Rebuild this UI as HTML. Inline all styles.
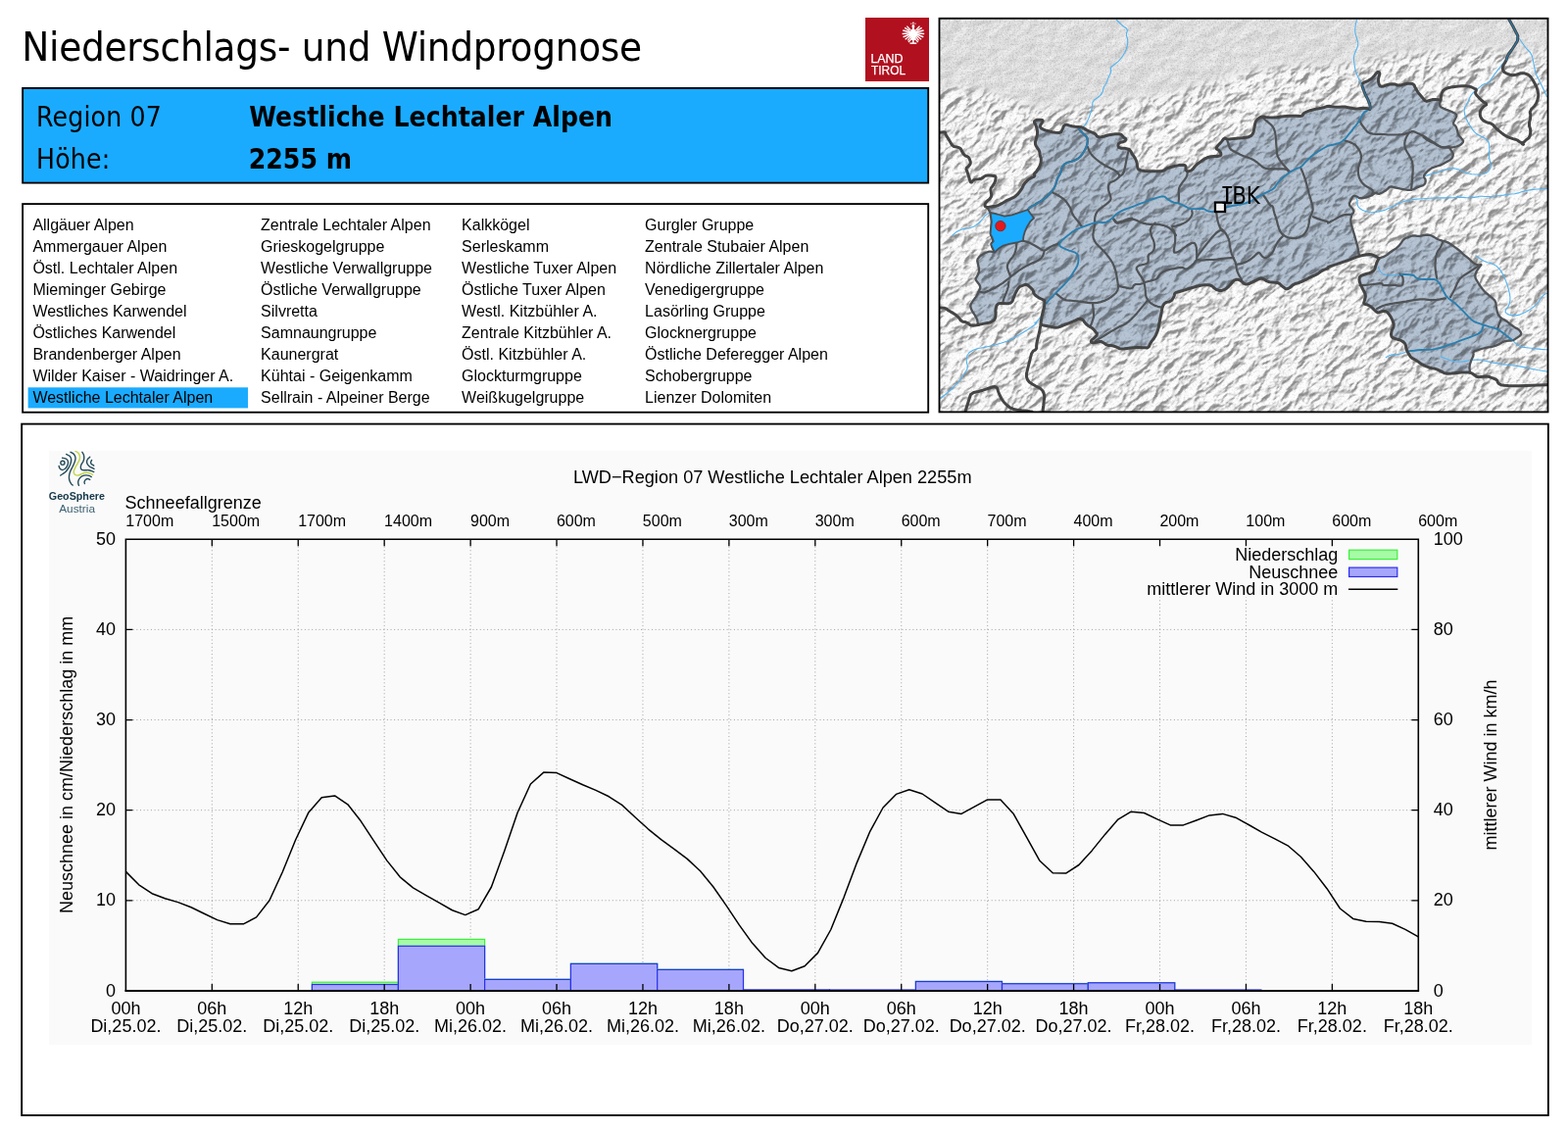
<!DOCTYPE html>
<html lang="de">
<head>
<meta charset="utf-8">
<title>Niederschlags- und Windprognose</title>
<style>
html,body{margin:0;padding:0;background:#fff;}
body{width:1600px;height:1153px;position:relative;overflow:hidden;font-family:"Liberation Sans",sans-serif;color:#000;}
.abs{position:absolute;}
#title{left:22.3px;top:22.7px;font-family:"DejaVu Sans Condensed","DejaVu Sans","Liberation Sans",sans-serif;font-size:41.7px;line-height:50px;letter-spacing:-0.3px;white-space:nowrap;}
#logo{left:883px;top:18px;width:65px;height:65px;background:#b1101f;}
#logo svg{display:block;}
#info{left:23px;top:89.8px;width:924px;height:96.8px;font-family:"DejaVu Sans Condensed","DejaVu Sans","Liberation Sans",sans-serif;font-size:28px;white-space:nowrap;}
#info div{position:absolute;line-height:34px;}
#info b{font-weight:bold;}
#list{left:23px;top:208px;width:924px;height:212.6px;font-size:16px;}
#list ul{list-style:none;margin:0;padding:0;position:absolute;top:10.7px;}
#list li{height:22px;line-height:22px;white-space:nowrap;padding-left:5px;}
svg text{font-family:"Liberation Sans",sans-serif;}
</style>
</head>
<body>
<svg class="abs" width="1600" height="1153" viewBox="0 0 1600 1153" style="left:0;top:0">
<rect x="23.1" y="89.9" width="924.1" height="96.7" fill="#1aabff" stroke="#000" stroke-width="1.85"/>
<rect x="23.1" y="208.1" width="924.1" height="212.6" fill="#fff" stroke="#000" stroke-width="1.85"/>
<rect x="22.15" y="432.6" width="1557.7" height="705.4" fill="#fff" stroke="#000" stroke-width="1.85"/>
<rect x="28.6" y="395.3" width="224.4" height="21.1" fill="#1aabff"/>
</svg>
<div class="abs" id="title">Niederschlags- und Windprognose</div>
<div class="abs" id="logo">
<svg width="65" height="65" viewBox="0 0 65 65">
<g stroke="#fff" stroke-linecap="butt" fill="none">
<path d="M46.62 16.52L38.52 19.8" stroke-width="1.5"/>
<path d="M51.18 16.52L59.28 19.8" stroke-width="1.5"/>
<path d="M46.42 15.77L37.63 16.39" stroke-width="1.5"/>
<path d="M51.38 15.77L60.17 16.39" stroke-width="1.5"/>
<path d="M46.55 15.01L38.23 12.94" stroke-width="1.5"/>
<path d="M51.25 15.01L59.57 12.94" stroke-width="1.5"/>
<path d="M46.98 14.44L40.16 10.35" stroke-width="1.4"/>
<path d="M50.82 14.44L57.64 10.35" stroke-width="1.4"/>
<path d="M47.46 14.06L42.35 8.58" stroke-width="1.3"/>
<path d="M50.34 14.06L55.45 8.58" stroke-width="1.3"/>
<path d="M47.09 17.07L40.66 22.27" stroke-width="1.4"/>
<path d="M50.71 17.07L57.14 22.27" stroke-width="1.4"/>
<path d="M47.67 17.29L43.32 23.29" stroke-width="1.2"/>
<path d="M50.13 17.29L54.48 23.29" stroke-width="1.2"/>
</g>
<g fill="#fff">
<path d="M48.9 6.2l1.5 2.4-.5 3 2.6 2.6.6 3.2-1.6 3 .3 2.6h-5.800l.3-2.6-1.6-3 .6-3.200 2.6-2.600-.5-3z"/>
<rect x="48.2" y="4.6" width="1.4" height="1.6"/><rect x="46.3" y="5.6" width="1.1" height="1.1"/><rect x="50.4" y="5.6" width="1.1" height="1.1"/>
<rect x="45.5" y="25.4" width="6.8" height="1.5"/><rect x="48.1" y="22" width="1.6" height="4"/>
<path d="M46.7 21.2l-3.2 3.400.9.9 3.2-3.400zM51.1 21.2l3.200 3.400-.9.9-3.200-3.400z"/>
</g>
<g fill="#b1101f">
<rect x="46.5" y="9.6" width="1.1" height="1.1"/><rect x="50.2" y="9.6" width="1.1" height="1.1"/><rect x="45.3" y="12.6" width="1" height="1"/><rect x="51.5" y="12.6" width="1" height="1"/><rect x="47" y="23.6" width="1" height="1"/><rect x="49.8" y="23.6" width="1" height="1"/>
</g>
<text x="5.4" y="46" font-size="12.2px" fill="#fff" stroke="#fff" stroke-width="0.25" textLength="33.2" lengthAdjust="spacingAndGlyphs">LAND</text>
<text x="6" y="57.9" font-size="12.2px" fill="#fff" stroke="#fff" stroke-width="0.25" textLength="35" lengthAdjust="spacingAndGlyphs">TIROL</text>
</svg>
</div>
<div class="abs" id="info">
<div style="left:14.1px;top:13.6px;letter-spacing:0.18px">Region 07</div>
<div style="left:14.1px;top:55.8px;letter-spacing:0.18px">Höhe:</div>
<div style="left:231.3px;top:13.6px;letter-spacing:0.03px"><b>Westliche Lechtaler Alpen</b></div>
<div style="left:230.8px;top:55.8px"><b>2255 m</b></div>
</div>
<div class="abs" id="list">
<ul style="left:5.4px;width:224.300px">
<li>Allgäuer Alpen</li>
<li>Ammergauer Alpen</li>
<li>Östl. Lechtaler Alpen</li>
<li>Mieminger Gebirge</li>
<li>Westliches Karwendel</li>
<li>Östliches Karwendel</li>
<li>Brandenberger Alpen</li>
<li>Wilder Kaiser - Waidringer A.</li>
<li class="sel">Westliche Lechtaler Alpen</li>
</ul>
<ul style="left:238.1px">
<li>Zentrale Lechtaler Alpen</li>
<li>Grieskogelgruppe</li>
<li>Westliche Verwallgruppe</li>
<li>Östliche Verwallgruppe</li>
<li>Silvretta</li>
<li>Samnaungruppe</li>
<li>Kaunergrat</li>
<li>Kühtai - Geigenkamm</li>
<li>Sellrain - Alpeiner Berge</li>
</ul>
<ul style="left:443.1px">
<li>Kalkkögel</li>
<li>Serleskamm</li>
<li>Westliche Tuxer Alpen</li>
<li>Östliche Tuxer Alpen</li>
<li>Westl. Kitzbühler A.</li>
<li>Zentrale Kitzbühler A.</li>
<li>Östl. Kitzbühler A.</li>
<li>Glockturmgruppe</li>
<li>Weißkugelgruppe</li>
</ul>
<ul style="left:630.1px">
<li>Gurgler Gruppe</li>
<li>Zentrale Stubaier Alpen</li>
<li>Nördliche Zillertaler Alpen</li>
<li>Venedigergruppe</li>
<li>Lasörling Gruppe</li>
<li>Glocknergruppe</li>
<li>Östliche Deferegger Alpen</li>
<li>Schobergruppe</li>
<li>Lienzer Dolomiten</li>
</ul>
</div>
<svg class="abs" id="map" width="626" height="406" viewBox="956 17 626 406" style="left:956px;top:17px">
<defs>
<clipPath id="mc"><rect x="958.5" y="18.8" width="621" height="401.6"/></clipPath>
<clipPath id="tc"><path d="M1007.5 211.6 1012.5 210.6 1017.5 210 1022.5 207.5 1027.5 204.4 1032.5 202.5 1037.5 199.4 1042.5 193.1 1045 187.5 1048.8 183.8 1052.5 181.2 1056 180 1055 177.5 1058.8 173.8 1061.9 167.5 1062.5 162.5 1061.2 158.8 1060.6 153.8 1058.1 150.6 1056 146.2 1057.5 141.2 1058.8 136.2 1058.1 131.2 1056.9 127.5 1055 124.4 1056.9 122.5 1061.2 122.1 1064.4 122.5 1063.1 125.6 1061.2 128.1 1061.9 130.6 1065.6 132.8 1070 133.8 1075 135 1082.5 135.6 1084.4 131.2 1085.6 128.1 1088.1 126.9 1092.5 128.5 1098.8 129.4 1105 130 1108.1 132.5 1112.5 134.4 1117.5 136.2 1120 140 1125 139.8 1130 138.1 1136.2 136.9 1143.8 136.6 1146.2 140 1149.4 141.9 1147.5 144.4 1141.9 145.6 1140.6 148.8 1142.5 151.2 1149.4 151.2 1153.8 153.8 1155 156.9 1157.5 160 1160 165 1160.6 171.2 1162.5 173.8 1170 174.8 1180 174.8 1187.5 174.4 1190 171.9 1196.2 170 1205 168.1 1210 168.5 1210 173.8 1211.9 175 1216.2 173.8 1220 168.8 1225 165 1230 161.2 1237.5 159.4 1245 159.4 1246.2 156.9 1243.8 153.1 1240.6 151.9 1242.5 148.8 1246.2 145 1249.4 140.6 1251.9 141.9 1255 141.9 1261.2 141.2 1270 140.6 1275.6 139.4 1278.8 136.2 1280 130 1281.2 123.8 1284.4 120.6 1287.5 118.8 1292.5 119.8 1300 120 1310 118.8 1320 118.1 1328.8 118.8 1330 115.6 1335 113.1 1342.5 111.2 1350 110 1355 108.1 1360 109 1365 109.4 1371.2 108.8 1377.5 110 1383.8 111.2 1390 110.2 1396.2 110.6 1398.1 111.9 1398.1 107.5 1396.2 102.5 1393.8 97.5 1391.2 91.9 1389.4 85.6 1392.5 83.8 1397.5 81.9 1401.9 78.1 1404.4 74.4 1406.9 73.1 1408.1 75 1406.9 78.8 1406.2 82.5 1407.5 87.5 1410.6 88.5 1416.2 86.2 1422.5 85.6 1427.5 87.5 1432.5 86 1437.5 85 1442.5 85.6 1444.4 90 1447.5 95 1451.2 99.4 1455 103.8 1458.8 102.5 1462.5 101.2 1470 101.9 1468.8 107.5 1471.2 110 1477.5 112.5 1483.8 115 1486.9 117.5 1485 121.2 1482.5 126.2 1485.6 128.8 1486.9 132.5 1488.1 137.5 1491.2 141.2 1493.8 144.4 1490 148.1 1485 150 1478.8 150.6 1481.2 153.8 1483.1 157.5 1481.2 162.5 1476.2 165 1471.2 168.1 1465 170 1460 171.9 1455 176.2 1452.5 180 1455 183.8 1453.8 188.8 1447.5 190.6 1441.2 193.8 1435 193.8 1428.8 192.5 1422.5 191.2 1418.8 190 1415 193.8 1410 196.9 1406.2 198.1 1403.8 196.2 1400 199.4 1395 201.2 1387.5 202.5 1383.8 200 1380.6 200 1378.8 203.8 1376.2 208.8 1380 212.5 1381.9 216.2 1379.4 218.8 1378.1 225 1379.4 231.2 1381.9 238.8 1383.8 246.2 1385.6 252.5 1386.2 258.8 1387.8 261 1406.9 263.8 1403.8 261.2 1398.8 259.4 1392.5 260 1385 261.9 1377.5 265 1370 267.5 1362.5 270 1355 272.5 1355 273.8 1348.8 276.2 1343.8 280 1337.5 282.5 1332.5 285.6 1326.2 288.1 1320 290 1316.2 293.8 1312.5 295 1308.8 292.5 1305 288.8 1300 288.1 1293.8 287.5 1290 285 1286.2 283.8 1280 286.9 1273.8 290 1270 290 1266.2 286.2 1262.5 285 1258.8 286.2 1255 291.2 1250 295.6 1245 296.9 1240 295 1236.2 291.2 1231.2 290.6 1225 291.2 1217.5 293.1 1210 295.6 1203.8 297.5 1198.8 298.8 1198.1 302.5 1195 307.5 1188.8 308.8 1186.2 312.5 1185 320 1183.1 328.8 1181.9 336.2 1178.8 343.8 1173.8 350 1171.9 355 1167.5 354.8 1161.2 354.4 1155 354.8 1148.8 355.6 1143.8 356.2 1140 354.4 1135 352.5 1130 352.5 1126.2 350 1123.1 348.1 1118.8 349.4 1113.8 350 1113.1 347.5 1116.2 345 1120 341.2 1117.5 338.1 1115 335 1111.2 333.1 1107.5 330 1105 326.2 1101.2 325 1096.2 327.5 1090 330 1083.8 332.5 1078.8 334.4 1073.8 333.8 1067.5 332.5 1061.9 331.2 1062.5 326.2 1063.8 320 1065.6 312.5 1066.2 306.9 1063.8 305.6 1058.8 303.1 1055 300 1054.4 296.2 1051.2 293.1 1047.5 290 1043.8 291.2 1040 292.5 1036.9 297.5 1034.4 303.8 1032.5 308.8 1027.5 310 1022.5 309.4 1017.5 310 1015.6 316.2 1016.2 321.2 1015 326.2 1011.2 328.8 1005 330 998.1 331.5 998.1 331.5 996.9 325 993.8 320 991.2 316.2 990 311.2 992.5 307.5 996.2 302.5 998.8 297.5 1000.6 292.5 998.1 288.8 995 285 997.5 281.2 999.4 276.2 998.1 270 996.9 265 1000 261.2 1005 258.1 1010 256.2 1015 257.5 1012.5 252.5 1011.2 248.8 1013.8 246.2 1012.5 242.5 1010.6 238.8 1011.2 232.5 1011.9 226.2 1011.2 221.2 1010.6 216.9 1007.5 211.9Z M1406.9 263.8 1413.8 261.2 1420 256.2 1426.2 252.5 1430 247.5 1432.5 243.8 1437.5 241.9 1442.5 240 1447.5 241.2 1452.5 240 1457.5 239.4 1462.5 241.2 1466.2 243.8 1471.2 245.6 1475 246.2 1480 248.8 1485 252.5 1490 256.2 1493.8 260 1498.8 263.8 1502.5 267.5 1506.2 270 1511.2 270.6 1508.8 273.8 1506.2 277.5 1505 282.5 1506.9 286.2 1510 291.2 1513.8 296.2 1517.5 300 1522.5 303.8 1526.2 307.5 1526.9 313.8 1528.1 320 1531.2 324.4 1536.2 326.9 1540 330 1545 333.8 1550 336.2 1552.5 340 1551.2 342.5 1547.5 345 1543.8 347.5 1538.8 347.5 1533.8 348.8 1528.8 351.9 1522.5 353.8 1515 355 1508.8 356.9 1503.1 358.8 1503.8 362.5 1501.2 367.5 1499.4 373.8 1500 380 1500 380 1495 380 1490 380 1485 380.6 1480 381.2 1475 381.2 1470 378.8 1465 376.2 1460 375.6 1455 373.8 1450 371.2 1445 367.5 1440 365 1437.5 361.2 1435 356.2 1434.4 351.2 1431.2 348.1 1426.2 346.2 1421.2 345 1419.4 342.5 1420 337.5 1422.5 332.5 1421.2 327.5 1418.8 322.5 1415 317.5 1410 317.5 1406.2 319.4 1403.8 317.5 1400 313.8 1396.2 311.2 1391.2 310 1392.5 306.2 1393.8 301.2 1391.2 296.2 1388.8 291.2 1386.9 286.2 1387.5 281.9 1392.5 280 1398.8 278.1 1402.5 275.6 1403.8 271.2 1405 267.5 1406.9 263.8Z"/></clipPath>
<filter id="hs" x="0" y="0" width="100%" height="100%" color-interpolation-filters="sRGB">
<feTurbulence type="turbulence" baseFrequency="0.045 0.075" numOctaves="5" seed="11" result="n"/>
<feDiffuseLighting in="n" surfaceScale="-6.5" diffuseConstant="1.2" lighting-color="#ffffff" result="l"><feDistantLight azimuth="263" elevation="50"/></feDiffuseLighting>
<feComponentTransfer in="l" result="l2"><feFuncR type="table" tableValues="0.56 0.67 0.77 0.86 0.94 1"/><feFuncG type="table" tableValues="0.56 0.67 0.77 0.86 0.94 1"/><feFuncB type="table" tableValues="0.56 0.67 0.77 0.86 0.94 1"/></feComponentTransfer>
<feTurbulence type="fractalNoise" baseFrequency="0.7" numOctaves="2" seed="3" result="g"/>
<feColorMatrix in="g" type="matrix" values="0.35 0 0 0 0.82  0.35 0 0 0 0.82  0.35 0 0 0 0.82  0 0 0 0 1" result="g2"/>
<feBlend in="l2" in2="g2" mode="multiply"/>
</filter>
<filter id="hf" x="0" y="0" width="100%" height="100%" color-interpolation-filters="sRGB">
<feTurbulence type="fractalNoise" baseFrequency="0.06 0.08" numOctaves="4" seed="5" result="n"/>
<feDiffuseLighting in="n" surfaceScale="0.5" diffuseConstant="1.155" lighting-color="#ffffff" result="l"><feDistantLight azimuth="225" elevation="50"/></feDiffuseLighting>
<feTurbulence type="fractalNoise" baseFrequency="0.6" numOctaves="2" seed="8" result="g"/>
<feColorMatrix in="g" type="matrix" values="0.35 0 0 0 0.81  0.35 0 0 0 0.81  0.35 0 0 0 0.81  0 0 0 0 1" result="g2"/>
<feBlend in="l" in2="g2" mode="multiply"/>
</filter>
<filter id="bl" x="-10%" y="-10%" width="120%" height="120%"><feGaussianBlur stdDeviation="5"/></filter>
<mask id="lm" maskUnits="userSpaceOnUse" x="950" y="10" width="640" height="420"><rect x="950" y="10" width="640" height="420" fill="#000"/><path filter="url(#bl)" fill="#fff" d="M940 0H1600V44L1545 54 1505 48 1465 52 1425 54 1385 64 1345 66 1305 68 1265 74 1215 90 1175 98 1135 104 1095 108 1055 110 1015 94 940 84Z"/></mask>
</defs>
<g clip-path="url(#mc)">
<rect x="856" y="-180" width="826" height="800" fill="#fff" filter="url(#hs)" transform="rotate(-38 1268 220)"/>
<rect x="956" y="17" width="626" height="406" fill="#fff" filter="url(#hf)" mask="url(#lm)"/>
<path d="M1007.5 211.6 1012.5 210.6 1017.5 210 1022.5 207.5 1027.5 204.4 1032.5 202.5 1037.5 199.4 1042.5 193.1 1045 187.5 1048.8 183.8 1052.5 181.2 1056 180 1055 177.5 1058.8 173.8 1061.9 167.5 1062.5 162.5 1061.2 158.8 1060.6 153.8 1058.1 150.6 1056 146.2 1057.5 141.2 1058.8 136.2 1058.1 131.2 1056.9 127.5 1055 124.4 1056.9 122.5 1061.2 122.1 1064.4 122.5 1063.1 125.6 1061.2 128.1 1061.9 130.6 1065.6 132.8 1070 133.8 1075 135 1082.5 135.6 1084.4 131.2 1085.6 128.1 1088.1 126.9 1092.5 128.5 1098.8 129.4 1105 130 1108.1 132.5 1112.5 134.4 1117.5 136.2 1120 140 1125 139.8 1130 138.1 1136.2 136.9 1143.8 136.6 1146.2 140 1149.4 141.9 1147.5 144.4 1141.9 145.6 1140.6 148.8 1142.5 151.2 1149.4 151.2 1153.8 153.8 1155 156.9 1157.5 160 1160 165 1160.6 171.2 1162.5 173.8 1170 174.8 1180 174.8 1187.5 174.4 1190 171.9 1196.2 170 1205 168.1 1210 168.5 1210 173.8 1211.9 175 1216.2 173.8 1220 168.8 1225 165 1230 161.2 1237.5 159.4 1245 159.4 1246.2 156.9 1243.8 153.1 1240.6 151.9 1242.5 148.8 1246.2 145 1249.4 140.6 1251.9 141.9 1255 141.9 1261.2 141.2 1270 140.6 1275.6 139.4 1278.8 136.2 1280 130 1281.2 123.8 1284.4 120.6 1287.5 118.8 1292.5 119.8 1300 120 1310 118.8 1320 118.1 1328.8 118.8 1330 115.6 1335 113.1 1342.5 111.2 1350 110 1355 108.1 1360 109 1365 109.4 1371.2 108.8 1377.5 110 1383.8 111.2 1390 110.2 1396.2 110.6 1398.1 111.9 1398.1 107.5 1396.2 102.5 1393.8 97.5 1391.2 91.9 1389.4 85.6 1392.5 83.8 1397.5 81.9 1401.9 78.1 1404.4 74.4 1406.9 73.1 1408.1 75 1406.9 78.8 1406.2 82.5 1407.5 87.5 1410.6 88.5 1416.2 86.2 1422.5 85.6 1427.5 87.5 1432.5 86 1437.5 85 1442.5 85.6 1444.4 90 1447.5 95 1451.2 99.4 1455 103.8 1458.8 102.5 1462.5 101.2 1470 101.9 1468.8 107.5 1471.2 110 1477.5 112.5 1483.8 115 1486.9 117.5 1485 121.2 1482.5 126.2 1485.6 128.8 1486.9 132.5 1488.1 137.5 1491.2 141.2 1493.8 144.4 1490 148.1 1485 150 1478.8 150.6 1481.2 153.8 1483.1 157.5 1481.2 162.5 1476.2 165 1471.2 168.1 1465 170 1460 171.9 1455 176.2 1452.5 180 1455 183.8 1453.8 188.8 1447.5 190.6 1441.2 193.8 1435 193.8 1428.8 192.5 1422.5 191.2 1418.8 190 1415 193.8 1410 196.9 1406.2 198.1 1403.8 196.2 1400 199.4 1395 201.2 1387.5 202.5 1383.8 200 1380.6 200 1378.8 203.8 1376.2 208.8 1380 212.5 1381.9 216.2 1379.4 218.8 1378.1 225 1379.4 231.2 1381.9 238.8 1383.8 246.2 1385.6 252.5 1386.2 258.8 1387.8 261 1406.9 263.8 1403.8 261.2 1398.8 259.4 1392.5 260 1385 261.9 1377.5 265 1370 267.5 1362.5 270 1355 272.5 1355 273.8 1348.8 276.2 1343.8 280 1337.5 282.5 1332.5 285.6 1326.2 288.1 1320 290 1316.2 293.8 1312.5 295 1308.8 292.5 1305 288.8 1300 288.1 1293.8 287.5 1290 285 1286.2 283.8 1280 286.9 1273.8 290 1270 290 1266.2 286.2 1262.5 285 1258.8 286.2 1255 291.2 1250 295.6 1245 296.9 1240 295 1236.2 291.2 1231.2 290.6 1225 291.2 1217.5 293.1 1210 295.6 1203.8 297.5 1198.8 298.8 1198.1 302.5 1195 307.5 1188.8 308.8 1186.2 312.5 1185 320 1183.1 328.8 1181.9 336.2 1178.8 343.8 1173.8 350 1171.9 355 1167.5 354.8 1161.2 354.4 1155 354.8 1148.8 355.6 1143.8 356.2 1140 354.4 1135 352.5 1130 352.5 1126.2 350 1123.1 348.1 1118.8 349.4 1113.8 350 1113.1 347.5 1116.2 345 1120 341.2 1117.5 338.1 1115 335 1111.2 333.1 1107.5 330 1105 326.2 1101.2 325 1096.2 327.5 1090 330 1083.8 332.5 1078.8 334.4 1073.8 333.8 1067.5 332.5 1061.9 331.2 1062.5 326.2 1063.8 320 1065.6 312.5 1066.2 306.9 1063.8 305.6 1058.8 303.1 1055 300 1054.4 296.2 1051.2 293.1 1047.5 290 1043.8 291.2 1040 292.5 1036.9 297.5 1034.4 303.8 1032.5 308.8 1027.5 310 1022.5 309.4 1017.5 310 1015.6 316.2 1016.2 321.2 1015 326.2 1011.2 328.8 1005 330 998.1 331.5 998.1 331.5 996.9 325 993.8 320 991.2 316.2 990 311.2 992.5 307.5 996.2 302.5 998.8 297.5 1000.6 292.5 998.1 288.8 995 285 997.5 281.2 999.4 276.2 998.1 270 996.9 265 1000 261.2 1005 258.1 1010 256.2 1015 257.5 1012.5 252.5 1011.2 248.8 1013.8 246.2 1012.5 242.5 1010.6 238.8 1011.2 232.5 1011.9 226.2 1011.2 221.2 1010.6 216.9 1007.5 211.9Z M1406.9 263.8 1413.8 261.2 1420 256.2 1426.2 252.5 1430 247.5 1432.5 243.8 1437.5 241.9 1442.5 240 1447.5 241.2 1452.5 240 1457.5 239.4 1462.5 241.2 1466.2 243.8 1471.2 245.6 1475 246.2 1480 248.8 1485 252.5 1490 256.2 1493.8 260 1498.8 263.8 1502.5 267.5 1506.2 270 1511.2 270.6 1508.8 273.8 1506.2 277.5 1505 282.5 1506.9 286.2 1510 291.2 1513.8 296.2 1517.5 300 1522.5 303.8 1526.2 307.5 1526.9 313.8 1528.1 320 1531.2 324.4 1536.2 326.9 1540 330 1545 333.8 1550 336.2 1552.5 340 1551.2 342.5 1547.5 345 1543.8 347.5 1538.8 347.5 1533.8 348.8 1528.8 351.9 1522.5 353.8 1515 355 1508.8 356.9 1503.1 358.8 1503.8 362.5 1501.2 367.5 1499.4 373.8 1500 380 1500 380 1495 380 1490 380 1485 380.6 1480 381.2 1475 381.2 1470 378.8 1465 376.2 1460 375.6 1455 373.8 1450 371.2 1445 367.5 1440 365 1437.5 361.2 1435 356.2 1434.4 351.2 1431.2 348.1 1426.2 346.2 1421.2 345 1419.4 342.5 1420 337.5 1422.5 332.5 1421.2 327.5 1418.8 322.5 1415 317.5 1410 317.5 1406.2 319.4 1403.8 317.5 1400 313.8 1396.2 311.2 1391.2 310 1392.5 306.2 1393.8 301.2 1391.2 296.2 1388.8 291.2 1386.9 286.2 1387.5 281.9 1392.5 280 1398.8 278.1 1402.5 275.6 1403.8 271.2 1405 267.5 1406.9 263.8Z" fill="#bccbdb" style="mix-blend-mode:multiply"/>
<path d="M1007.5 211.6 1012.5 210.6 1017.5 210 1022.5 207.5 1027.5 204.4 1032.5 202.5 1037.5 199.4 1042.5 193.1 1045 187.5 1048.8 183.8 1052.5 181.2 1056 180 1055 177.5 1058.8 173.8 1061.9 167.5 1062.5 162.5 1061.2 158.8 1060.6 153.8 1058.1 150.6 1056 146.2 1057.5 141.2 1058.8 136.2 1058.1 131.2 1056.9 127.5 1055 124.4 1056.9 122.5 1061.2 122.1 1064.4 122.5 1063.1 125.6 1061.2 128.1 1061.9 130.6 1065.6 132.8 1070 133.8 1075 135 1082.5 135.6 1084.4 131.2 1085.6 128.1 1088.1 126.9 1092.5 128.5 1098.8 129.4 1105 130 1108.1 132.5 1112.5 134.4 1117.5 136.2 1120 140 1125 139.8 1130 138.1 1136.2 136.9 1143.8 136.6 1146.2 140 1149.4 141.9 1147.5 144.4 1141.9 145.6 1140.6 148.8 1142.5 151.2 1149.4 151.2 1153.8 153.8 1155 156.9 1157.5 160 1160 165 1160.6 171.2 1162.5 173.8 1170 174.8 1180 174.8 1187.5 174.4 1190 171.9 1196.2 170 1205 168.1 1210 168.5 1210 173.8 1211.9 175 1216.2 173.8 1220 168.8 1225 165 1230 161.2 1237.5 159.4 1245 159.4 1246.2 156.9 1243.8 153.1 1240.6 151.9 1242.5 148.8 1246.2 145 1249.4 140.6 1251.9 141.9 1255 141.9 1261.2 141.2 1270 140.6 1275.6 139.4 1278.8 136.2 1280 130 1281.2 123.8 1284.4 120.6 1287.5 118.8 1292.5 119.8 1300 120 1310 118.8 1320 118.1 1328.8 118.8 1330 115.6 1335 113.1 1342.5 111.2 1350 110 1355 108.1 1360 109 1365 109.4 1371.2 108.8 1377.5 110 1383.8 111.2 1390 110.2 1396.2 110.6 1398.1 111.9 1398.1 107.5 1396.2 102.5 1393.8 97.5 1391.2 91.9 1389.4 85.6 1392.5 83.8 1397.5 81.9 1401.9 78.1 1404.4 74.4 1406.9 73.1 1408.1 75 1406.9 78.8 1406.2 82.5 1407.5 87.5 1410.6 88.5 1416.2 86.2 1422.5 85.6 1427.5 87.5 1432.5 86 1437.5 85 1442.5 85.6 1444.4 90 1447.5 95 1451.2 99.4 1455 103.8 1458.8 102.5 1462.5 101.2 1470 101.9 1468.8 107.5 1471.2 110 1477.5 112.5 1483.8 115 1486.9 117.5 1485 121.2 1482.5 126.2 1485.6 128.8 1486.9 132.5 1488.1 137.5 1491.2 141.2 1493.8 144.4 1490 148.1 1485 150 1478.8 150.6 1481.2 153.8 1483.1 157.5 1481.2 162.5 1476.2 165 1471.2 168.1 1465 170 1460 171.9 1455 176.2 1452.5 180 1455 183.8 1453.8 188.8 1447.5 190.6 1441.2 193.8 1435 193.8 1428.8 192.5 1422.5 191.2 1418.8 190 1415 193.8 1410 196.9 1406.2 198.1 1403.8 196.2 1400 199.4 1395 201.2 1387.5 202.5 1383.8 200 1380.6 200 1378.8 203.8 1376.2 208.8 1380 212.5 1381.9 216.2 1379.4 218.8 1378.1 225 1379.4 231.2 1381.9 238.8 1383.8 246.2 1385.6 252.5 1386.2 258.8 1387.8 261 1406.9 263.8 1403.8 261.2 1398.8 259.4 1392.5 260 1385 261.9 1377.5 265 1370 267.5 1362.5 270 1355 272.5 1355 273.8 1348.8 276.2 1343.8 280 1337.5 282.5 1332.5 285.6 1326.2 288.1 1320 290 1316.2 293.8 1312.5 295 1308.8 292.5 1305 288.8 1300 288.1 1293.8 287.5 1290 285 1286.2 283.8 1280 286.9 1273.8 290 1270 290 1266.2 286.2 1262.5 285 1258.8 286.2 1255 291.2 1250 295.6 1245 296.9 1240 295 1236.2 291.2 1231.2 290.6 1225 291.2 1217.5 293.1 1210 295.6 1203.8 297.5 1198.8 298.8 1198.1 302.5 1195 307.5 1188.8 308.8 1186.2 312.5 1185 320 1183.1 328.8 1181.9 336.2 1178.8 343.8 1173.8 350 1171.9 355 1167.5 354.8 1161.2 354.4 1155 354.8 1148.8 355.6 1143.8 356.2 1140 354.4 1135 352.5 1130 352.5 1126.2 350 1123.1 348.1 1118.8 349.4 1113.8 350 1113.1 347.5 1116.2 345 1120 341.2 1117.5 338.1 1115 335 1111.2 333.1 1107.5 330 1105 326.2 1101.2 325 1096.2 327.5 1090 330 1083.8 332.5 1078.8 334.4 1073.8 333.8 1067.5 332.5 1061.9 331.2 1062.5 326.2 1063.8 320 1065.6 312.5 1066.2 306.9 1063.8 305.6 1058.8 303.1 1055 300 1054.4 296.2 1051.2 293.1 1047.5 290 1043.8 291.2 1040 292.5 1036.9 297.5 1034.4 303.8 1032.5 308.8 1027.5 310 1022.5 309.4 1017.5 310 1015.6 316.2 1016.2 321.2 1015 326.2 1011.2 328.8 1005 330 998.1 331.5 998.1 331.5 996.9 325 993.8 320 991.2 316.2 990 311.2 992.5 307.5 996.2 302.5 998.8 297.5 1000.6 292.5 998.1 288.8 995 285 997.5 281.2 999.4 276.2 998.1 270 996.9 265 1000 261.2 1005 258.1 1010 256.2 1015 257.5 1012.5 252.5 1011.2 248.8 1013.8 246.2 1012.5 242.5 1010.6 238.8 1011.2 232.5 1011.9 226.2 1011.2 221.2 1010.6 216.9 1007.5 211.9Z M1406.9 263.8 1413.8 261.2 1420 256.2 1426.2 252.5 1430 247.5 1432.5 243.8 1437.5 241.9 1442.5 240 1447.5 241.2 1452.5 240 1457.5 239.4 1462.5 241.2 1466.2 243.8 1471.2 245.6 1475 246.2 1480 248.8 1485 252.5 1490 256.2 1493.8 260 1498.8 263.8 1502.5 267.5 1506.2 270 1511.2 270.6 1508.8 273.8 1506.2 277.5 1505 282.5 1506.9 286.2 1510 291.2 1513.8 296.2 1517.5 300 1522.5 303.8 1526.2 307.5 1526.9 313.8 1528.1 320 1531.2 324.4 1536.2 326.9 1540 330 1545 333.8 1550 336.2 1552.5 340 1551.2 342.5 1547.5 345 1543.8 347.5 1538.8 347.5 1533.8 348.8 1528.8 351.9 1522.5 353.8 1515 355 1508.8 356.9 1503.1 358.8 1503.8 362.5 1501.2 367.5 1499.4 373.8 1500 380 1500 380 1495 380 1490 380 1485 380.6 1480 381.2 1475 381.2 1470 378.8 1465 376.2 1460 375.6 1455 373.8 1450 371.2 1445 367.5 1440 365 1437.5 361.2 1435 356.2 1434.4 351.2 1431.2 348.1 1426.2 346.2 1421.2 345 1419.4 342.5 1420 337.5 1422.5 332.5 1421.2 327.5 1418.8 322.5 1415 317.5 1410 317.5 1406.2 319.4 1403.8 317.5 1400 313.8 1396.2 311.2 1391.2 310 1392.5 306.2 1393.8 301.2 1391.2 296.2 1388.8 291.2 1386.9 286.2 1387.5 281.9 1392.5 280 1398.8 278.1 1402.5 275.6 1403.8 271.2 1405 267.5 1406.9 263.8Z" fill="#8797a9" fill-opacity="0.1"/>
<g fill="none" stroke="#55b4f0" stroke-width="1.1" stroke-linejoin="round">
<path d="M1139 20 1140.5 21.5 1143.5 24.5 1146.5 27 1149.5 29 1150.5 31.2 1149.5 33.8 1149.5 36.5 1150.5 39.5 1150.8 43 1150.2 47 1149.2 50.5 1147.8 53.5 1146 56.5 1144 59.5 1141.5 62.2 1138.5 64.8 1136 66.8 1134 68.2 1133.2 70 1133.8 72 1133.2 74.5 1131.8 77.5 1130.5 80.5 1129.5 83.5 1128.2 86 1126.8 88 1125.8 90.5 1125.2 93.5 1124 96 1122 98 1119.5 100 1116.5 102 1114.9 104.5 1114.7 107.5 1114.2 110.5 1113.4 113.5 1112.2 117 1110.8 121 1109.2 124.2 1107.8 126.8 1106 128.5 1104 129.5 1103 130"/>
<path d="M1389.4 85.6 1388.6 84.2 1387 81.4 1385.5 78.1 1383.9 74.4 1382.8 70.6 1382.2 66.9 1381.7 63.1 1381.4 59.4 1381.9 55.9 1383.1 52.8 1384.4 49.7 1385.6 46.6 1385.8 43.4 1384.8 40.3 1383.9 37.2 1383 34.1 1382.7 30.9 1383 27.8 1383.4 24.7 1384.1 21.6 1384.4 20"/>
<path d="M1537.5 58.8 1536.2 60.6 1533.8 64.4 1531.2 67.8 1528.8 70.9 1526.6 73.8 1524.7 76.2 1522.5 79.4 1520 83.1 1517.5 85.2 1515 85.5 1512.5 86.7 1510 88.9 1507.5 90.9 1505 92.8 1502.8 95 1500.9 97.5 1499.4 100.3 1498.1 103.4 1496.6 106.6 1494.7 109.7 1494.1 113.1 1494.7 116.9 1495.9 120.6 1497.8 124.4 1499.7 127.8 1501.6 130.9 1503.8 133.8 1506.2 136.2 1509.1 138.1 1512.2 139.4 1515 140.9 1517.5 142.8 1519.1 145.3 1519.7 148.4 1519.8 152.5 1519.5 157.5 1519.5 160.6 1519.8 161.9 1520.3 164.1 1520.9 167.2 1520.9 170 1520.3 172.5 1518.8 174.7 1516.2 176.6 1513.1 177.7 1509.4 178 1505.6 178 1501.9 177.7 1498.4 177 1495.3 176.1 1492.2 174.8 1489.1 173.3 1485.9 172.2 1482.8 171.6 1479.7 171.7 1476.6 172.7 1473.1 173.8 1469.4 175 1465.3 176.2 1460.9 177.5 1457.2 178.6 1454.1 179.5 1452.5 180"/>
<path d="M1550 39 1551.8 41.5 1555.2 46.5 1558.5 50.5 1561.5 53.5 1563.5 57.5 1564.5 62.5 1565.5 67.5 1566.5 72.5 1568 77 1570 81 1572 85 1574 89 1575.9 93 1577.7 97 1578.6 99"/>
<path d="M1380.6 200 1381.7 200.6 1383.9 201.9 1385 204.4 1385 208.1 1385.9 210.9 1387.8 212.8 1390 214.2 1392.5 215.2 1395 215.9 1397.5 216.6 1400.3 216.7 1403.4 216.4 1406.6 215.9 1409.7 215.3 1412.8 214.4 1415.9 213.1 1419.1 211.7 1422.2 210.2 1425.3 208.6 1428.4 207 1431.9 205.8 1435.6 204.8 1439.4 204.1 1443.1 203.4 1447.5 203 1452.5 202.7 1458.1 202.3 1464.4 202 1470.6 201.9 1476.9 201.9 1482.5 201.7 1487.5 201.4 1492.2 201.4 1496.6 201.7 1500.6 201.7 1504.4 201.4 1507.2 200.9 1509.1 200.3 1511.9 200.2 1515.6 200.5 1519.4 200.5 1523.1 200.2 1526.9 199.8 1530.6 199.5 1534.4 199.1 1538.1 198.4 1541.9 198 1545.6 197.7 1549.4 196.9 1553.1 195.6 1557.5 194.5 1562.5 193.6 1568.4 193 1575.3 192.7 1578.8 192.5"/>
<path d="M1505.6 260.6 1506.7 261.4 1508.9 263 1511.6 264.7 1514.7 266.6 1517.8 267.8 1520.9 268.4 1524.1 269.7 1527.2 271.6 1530 274.4 1532.5 278.1 1534.7 282.2 1536.6 286.6 1538.1 290.9 1539.4 295.3 1540.3 299.4 1540.9 303.1 1540.9 306.6 1540.3 309.7 1539.1 312.5 1537.2 315 1536.2 317 1536.2 318.6 1537.5 320 1540 321.2 1543.1 321.9 1546.9 321.9 1550.6 321.1 1554.4 319.5 1557.8 317.8 1560.9 315.9 1564.1 313.8 1567.2 311.2 1569.7 308.4 1571.6 305.3 1573.4 302.8 1575.3 300.9 1577.2 299.8 1579.1 299.5 1580 299.4"/>
<path d="M1543.8 347.5 1544.7 348.4 1546.6 350.3 1548.4 351.9 1550.3 353.1 1553.4 354.1 1557.8 354.7 1562.5 355.3 1567.5 355.9 1572.5 356.4 1577.5 356.7 1580 356.9"/>
<path d="M1437.5 358.1 1436.2 358.6 1433.8 359.5 1430.9 360.5 1427.8 361.4 1424.4 361.9 1420.6 361.9 1417.5 362.7 1415 364.2 1413.8 365"/>
<path d="M1406.2 271.9 1406.7 273.1 1407.7 275.6 1409.2 277.8 1411.4 279.7 1414.4 280.8 1418.1 281.1 1422.2 280.9 1426.6 280.3 1428.8 280"/>
<path d="M1470 363.8 1471.2 364.2 1473.8 365.2 1476.9 366.4 1480.6 368 1484.7 368.9 1489.1 369.2 1493.4 368.9 1497.8 368 1502.5 367.3 1507.5 367 1511.9 367.3 1515.6 368.3 1519.7 369.2 1524.1 370.2 1528.4 370.9 1532.8 371.6 1537.5 372.2 1542.5 372.8 1547.5 373.4 1552.5 374.1 1557.5 375 1562.5 376.2 1568.8 377.5 1576.2 378.8 1580 379.4"/>
<path d="M1067.5 310 1066.9 311.6 1065.6 314.7 1064.4 317.8 1063.1 320.9 1061.6 323.8 1059.7 326.2 1057.8 328.1 1055.9 329.4 1056 329.8 1058 329.2 1057 330.5 1053 333.5 1048.5 336.5 1043.5 339.5 1038.5 342.5 1033.5 345.5 1028 348 1022 350 1016 351.8 1010 353.2 1004 354.5 998 355.5 993 357.2 989 359.8 986.8 363 986.2 367 986.5 370.5 987.5 373.5 986.8 377 984.2 381 981.5 385 978.5 389 975 393 971 397 966.5 401 961.5 405 959 407"/>
<path d="M1010.6 216.9 1009.5 217.3 1007.3 218.3 1005.3 220 1003.4 222.5 1001.2 225 998.8 227.5 995.9 229.7 992.8 231.6 989.4 232.7 985.6 233 981.9 233.9 978.1 235.5 975 237.3 972.5 239.5 971.2 240.6"/>
</g>
<g fill="none" stroke="#505356" stroke-width="2.2" stroke-linejoin="round" stroke-linecap="round">
<path d="M1100.6 131.2 1101.7 132.5 1103.9 135 1106.1 137.2 1108.3 139.1 1109.5 141.2 1109.8 143.8 1109.5 146.6 1108.6 149.7 1107.3 152.5 1105.8 155 1104.1 157.5 1102.2 160 1099.7 162 1096.6 163.6 1093.1 164.8 1089.4 165.8 1086.6 167.2 1084.7 169.1 1083.4 171.6 1082.8 174.7 1081.6 177.8 1079.7 180.9 1078.3 184.4 1077.3 188.1 1075.8 191.6 1073.6 194.7 1071.2 197.5 1068.8 200 1066.2 202.2 1063.8 204.1 1060.9 205.9 1057.8 207.8 1055 209.4 1052.5 210.6 1050.6 211.9 1049.4 213.3 1048.8 214"/>
<path d="M1110 150 1110.3 150.9 1110.9 152.8 1112 155 1113.6 157.5 1115.8 160 1118.6 162.5 1121.6 164.8 1124.7 167 1127.8 168.9 1130.9 170.5 1133.8 171.9 1136.2 173.1 1138.4 174.5 1140.3 176.1 1141.6 177.7 1142.2 179.2 1141.9 180.6 1140.6 181.9 1139.1 183.1 1137.2 184.4 1135.3 185.3 1133.4 185.9 1132 187.2 1131.1 189.1 1130.8 191.2 1131.1 193.8 1131.7 196.2 1132.7 198.8 1133.3 200.9 1133.6 202.8 1132.8 204.7 1130.9 206.6 1128.8 208.4 1126.2 210.3 1123.8 212.2 1121.2 214.1 1119.4 216.2 1118.1 218.8 1117.3 221.6 1117 224.7 1116.9 226.2"/>
<path d="M1152.2 151.9 1151.9 153 1151.3 155.2 1150.6 157.8 1149.9 160.9 1149.2 164.4 1148.5 168.1 1147.7 171.9 1146.7 175.6 1145.3 178.1 1143.4 179.4 1142.5 180"/>
<path d="M1073.8 196.2 1075 196.9 1077.5 198.1 1080 199.5 1082.5 201.1 1084.7 202.7 1086.6 204.2 1088.1 205.9 1089.4 207.8 1090.6 209.7 1091.9 211.6 1092.8 213.8 1093.4 216.2 1094.4 218.4 1095.6 220.3 1097 222.2 1098.6 224.1 1100 225.8 1101.2 227.3 1102.3 228.9 1103.3 230.5 1103.8 231.2"/>
<path d="M1136.2 223.1 1136.9 223.9 1138.1 225.5 1139.1 226.7 1139.7 227.7 1141.2 227.8 1143.8 227.2 1146.2 226.4 1148.8 225.5 1151.2 224.7 1153.8 224.1 1155 223.6 1155 223.3 1156.2 223.6 1158.8 224.5 1161.2 225.6 1163.8 226.9 1166.6 227.8 1169.7 228.4 1173.1 228.8 1176.9 228.8 1180.3 228.9 1183.4 229.2 1186.6 229.8 1189.7 230.8 1192.5 232.2 1195 234.1 1197.2 236.2 1199.1 238.8 1200 240"/>
<path d="M1211.9 175 1211.7 176.2 1211.4 178.8 1210.3 181.2 1208.4 183.8 1206.6 186.2 1204.7 188.8 1203.4 191.2 1202.8 193.8 1202.7 196.2 1203 198.8 1203 201.7 1202.7 205.2 1202.5 206.9"/>
<path d="M1251.9 141.9 1252.3 143.3 1253.3 146.1 1254.1 148.6 1254.7 150.8 1256.2 152.7 1258.8 154.2 1261.9 155.9 1265.6 157.8 1269.4 159.4 1273.1 160.6 1276.6 162 1279.7 163.6 1282.5 165.5 1285 167.7 1287.3 169.5 1289.5 171.1 1292.3 172 1295.8 172.3 1299.4 172.4 1303.1 172.3 1306.9 172.3 1310.6 172.4 1313.3 173.1 1314.8 174.4 1315.6 175"/>
<path d="M1287.5 118.8 1288.8 120 1291.2 122.5 1293.8 124.7 1296.2 126.6 1298.3 128.8 1299.8 131.2 1300.9 134.4 1301.6 138.1 1302 142.5 1302.3 147.5 1302.7 152.2 1303 156.6 1304.1 160.3 1305.9 163.4 1308 166.2 1310.2 168.8 1312.3 171.2 1314.5 173.8 1315.6 175"/>
<path d="M1288.8 198.8 1289.7 200 1291.6 202.5 1293.4 205.3 1295.3 208.4 1296.9 210 1298.1 210 1299.1 211.6 1299.7 214.7 1300.6 218.1 1301.9 221.9 1303 225.6 1303.9 229.4 1305 232.8 1306.2 235.9 1308 238.4 1310.2 240.3 1312.8 241.7 1315.9 242.7 1319.1 243.1 1322.2 243.1 1325.3 242.3 1328.4 240.8 1330.9 238.8 1332.8 236.2 1334.2 233.4 1335.2 230.3 1335.8 227.2 1336.1 224.1 1336.9 221.2 1338.1 218.8 1339.1 216.2 1339.7 213.8 1339.4 210.3 1338.1 205.9 1336.9 201.6 1335.6 197.2 1334.4 192.5 1333.1 187.5 1331.9 183.1 1330.6 179.4 1329.4 176.1 1328.1 173.3 1327.5 171.9"/>
<path d="M1241.2 216.9 1241.4 218.3 1241.7 221.1 1242.2 223.8 1242.8 226.2 1243.6 228.8 1244.5 231.2 1245.6 233.4 1246.9 235.3 1247.5 235.8 1247.5 234.8 1248.4 235.5 1250.3 237.7 1252 240.3 1253.6 243.4 1254.5 246.6 1254.8 249.7 1255.3 252.8 1255.9 255.9 1256.7 258.8 1257.7 261.2 1258.9 264.1 1260.5 267.2 1261.4 270.3 1261.7 273.4 1262.3 276.2 1263.3 278.8 1264.5 281.2 1266.1 283.8 1266.9 285"/>
<path d="M1216.2 215 1216.4 215.9 1216.7 217.8 1216.1 220 1214.5 222.5 1212.5 224.7 1210 226.6 1207.2 228.1 1204.1 229.4 1200.9 230.3 1197.8 230.9 1196.2 231.2"/>
<path d="M1178.8 227.5 1177.8 228.4 1175.9 230.3 1174.7 232.2 1174.1 234.1 1174.1 236.6 1174.7 239.7 1175.6 242.5 1176.9 245 1177.7 247.8 1178 250.9 1177.7 253.8 1176.7 256.2 1175 258.1 1172.5 259.4 1171.4 261.2 1171.7 263.8 1171.7 265.9 1171.4 267.8 1170 269.1 1167.5 269.7 1165 270.3 1162.5 270.9 1160.8 271.9 1159.8 273.1 1159.8 274.7 1160.8 276.6 1161.9 278.4 1163.1 280.3 1164.4 282.2 1165.6 284.1 1166.6 285.9 1167.2 287.8 1167.8 290.3 1168.4 293.4 1168.8 296.6 1168.8 299.7 1169.4 302.5 1170.6 305 1172.2 307.2 1174.1 309.1 1176.2 310.6 1178.8 311.9 1181.4 312.8 1184.2 313.4 1185.6 313.8"/>
<path d="M1196.2 233.1 1196.9 234.2 1198.1 236.4 1198.9 239.1 1199.2 242.2 1199.2 245.3 1198.9 248.4 1198.4 251.6 1197.8 254.7 1197.8 256.7 1198.4 257.7 1200 257.7 1202.5 256.7 1205 255.3 1207.5 253.4 1210 251.6 1212.5 249.7 1215 248.4 1217.5 247.8 1219.2 248.4 1220.2 250.3 1220.8 252.8 1221.1 255.9 1221.2 258.8 1221.2 261.2 1221.2 263.1 1221.2 264.4 1221.2 265"/>
<path d="M1247.5 234.4 1246.2 234.8 1243.8 235.8 1241.2 237.5 1238.8 240 1236.2 242.8 1233.8 245.9 1231.2 249.1 1228.8 252.2 1226.6 255 1224.7 257.5 1223.1 259.7 1221.9 261.6 1221.2 262.5"/>
<path d="M1221.2 265 1222.5 265.2 1225 265.5 1227.8 265.5 1230.9 265.2 1234.4 265 1238.1 265 1241.9 264.7 1245.6 264.1 1249.4 263.6 1253.1 263.3 1255.9 263.1 1257.8 263.1 1258.8 263.1"/>
<path d="M1261.2 270 1262.8 269.7 1265.9 269.1 1269.1 268.1 1272.2 266.9 1275 265.3 1277.5 263.4 1279.7 261.6 1281.6 259.7 1283.1 258.4 1284.4 257.8 1285.6 258.4 1286.9 260.3 1288.4 261.9 1290.3 263.1 1292.2 263.1 1294.1 261.9 1295.9 260.3 1297.8 258.4 1299.4 255.9 1300.6 252.8 1302.2 249.7 1304.1 246.6 1305.9 244.1 1307.8 242.2 1308.8 241.2"/>
<path d="M1340 221.2 1341.6 221.9 1344.7 223.1 1348.4 224.4 1352.8 225.6 1355 226.2"/>
<path d="M1221.2 265 1220.3 266.2 1218.4 268.8 1216.2 270.9 1213.8 272.8 1211.9 274.1 1210.6 274.7 1209.1 274.4 1207.2 273.1 1204.7 272.8 1201.6 273.4 1198.1 274.1 1194.4 274.7 1190.9 275.6 1187.8 276.9 1185.3 278.4 1183.4 280.3 1181.9 282.2 1180.6 284.1 1178.8 285.3 1176.2 285.9 1173.1 286.7 1169.4 287.7 1167.5 288.1"/>
<path d="M1044 245.6 1045.5 246.1 1048.5 247 1051.2 248.1 1053.8 249.4 1056.2 250.8 1058.8 252.3 1061.4 253.9 1064.2 255.5 1067.3 255 1070.8 252.5 1074.4 250.6 1078.1 249.4 1080.3 248.4 1080.9 247.8 1081.2 247.5"/>
<path d="M1065.6 256.2 1065.2 257.8 1064.2 260.9 1062.5 263.4 1060 265.3 1057.2 266.9 1054.1 268.1 1050.6 269.7 1046.9 271.6 1043.1 273.8 1039.4 276.2 1035.9 278.8 1032.8 281.2 1029.7 283.8 1026.6 286.2 1023.1 288.8 1019.4 291.2 1015.6 293.4 1011.9 295.3 1008.4 296.9 1005.3 298.1 1002.5 298.4 1000 297.8 998.8 297.5"/>
<path d="M1037.5 247.5 1037.3 249.1 1037 252.2 1036.4 255.3 1035.5 258.4 1033.8 261.6 1031.2 264.7 1029.4 267.5 1028.1 270 1027.8 272.5 1028.4 275 1029.4 277.7 1030.6 280.5 1031.2 281.9"/>
<path d="M1029.4 287.5 1029.2 289.1 1028.9 292.2 1028.1 295.3 1026.9 298.4 1025.6 301.6 1024.4 304.7 1023.6 307.2 1023.3 309.1 1023.1 310"/>
<path d="M1117.5 226.2 1117.2 228.1 1116.6 231.9 1115.9 235.6 1115.3 239.4 1115.6 242.8 1116.9 245.9 1118.8 248.8 1121.2 251.2 1123.8 253.8 1126.2 256.2 1128.8 259.1 1131.2 262.2 1133.4 265.3 1135.3 268.4 1136.9 271.9 1138.1 275.6 1139.1 279.4 1139.7 283.1 1140.3 286.9 1140.9 290.6 1140.9 293.8 1140.3 296.2 1138.8 298.8 1136.2 301.2 1133.4 303.4 1130.3 305.3 1126.9 306.9 1123.1 308.1 1119.7 308.9 1116.6 309.2 1113.4 309.2 1110.3 308.9 1106.9 308.4 1103.1 307.8 1099.4 307.3 1095.6 307 1091.9 306.7 1088.1 306.4 1085 305.3 1082.5 303.4 1080.3 301.7 1078.4 300.2 1077.5 299.4"/>
<path d="M1141.2 291.9 1142.8 292.2 1145.9 292.8 1149.4 293.6 1153.1 294.5 1155.6 293.8 1156.9 291.2 1158.8 290 1161.2 290 1163.8 289.8 1166.2 289.2 1167.5 289"/>
<path d="M1115 309.4 1115.2 311.1 1115.5 314.5 1115.8 317.8 1116.1 320.9 1115.8 324.1 1114.8 327.2 1113.9 329.8 1113 332 1112.5 333.1"/>
<path d="M1136.2 223.8 1136.9 224.7 1138.1 226.6 1140.3 227 1143.4 226.1 1146.2 225.2 1148.8 224.2 1151.2 223.4 1153.8 222.8 1155 222.5"/>
<path d="M1171.2 306.2 1169.7 308.1 1166.6 311.9 1163.4 315.6 1160.3 319.4 1157.2 322.8 1154.1 325.9 1151.2 328.4 1148.8 330.3 1145.9 331.9 1142.8 333.1 1139.7 334.7 1136.6 336.6 1133.4 338.4 1130.3 340.3 1127.2 342.2 1124.1 344.1 1121.2 345.8 1118.8 347.3 1117.5 348.1"/>
<path d="M1387.5 121.9 1387.8 123 1388.4 125.2 1389.7 127.5 1391.6 130 1393.4 132.3 1395.3 134.5 1397.8 135.9 1400.9 136.6 1404.4 136.9 1408.1 136.9 1411.9 137 1415.6 137.3 1419.4 137.5 1423.1 137.5 1426.9 137.3 1430.6 137 1433.8 136.6 1436.2 135.9 1438.4 135.2 1440.3 134.2 1442.5 134.2 1445 135.2 1447.8 136.4 1450.9 138 1453.8 139.5 1456.2 141.1 1458.8 142.7 1461.2 144.2 1463.8 145.9 1466.2 147.8 1468.8 149.2 1471.2 150.2 1474.1 150.3 1477.2 149.7 1478.8 149.4"/>
<path d="M1437.5 135.6 1436.9 136.7 1435.6 138.9 1434.5 141.2 1433.6 143.8 1433.3 146.6 1433.6 149.7 1434.1 151.9 1434.7 153.1 1435.9 155.3 1437.8 158.4 1439.4 161.2 1440.6 163.8 1441.4 166.9 1441.7 170.6 1441.7 174.4 1441.4 178.1 1441.1 181.9 1440.8 185.6 1440.5 189.1 1440.2 192.2 1440 193.8"/>
<path d="M1371.2 143.1 1372.8 143.6 1375.9 144.5 1378.8 145.6 1381.2 146.9 1382.8 147.8 1383.4 148.4 1384.7 150 1386.6 152.5 1388 155.3 1388.9 158.4 1388.9 161.6 1388 164.7 1387 167.8 1386.1 170.9 1385.8 174.4 1386.1 178.1 1387 181.6 1388.6 184.7 1390.5 187.2 1392.7 189.1 1395 190.6 1397.5 191.9 1399.4 193.1 1400.6 194.4 1400.9 196.1 1400.3 198.3 1400 199.4"/>
<path d="M1452.5 140 1453.8 140.9 1456.2 142.8 1459.1 144.4 1462.2 145.6 1465.3 147.2 1468.4 149.1 1471.2 150.2 1473.8 150.5 1475.9 150.6 1477.8 150.6 1478.8 150.6"/>
<path d="M1355 227.5 1356.2 226.9 1358.8 225.6 1361.6 224.1 1364.7 222.2 1367.8 220.6 1370.9 219.4 1374.2 218.8 1377.7 218.8 1379.4 218.8"/>
<path d="M1472.5 246.2 1471.9 247.8 1470.6 250.9 1469.1 253.8 1467.2 256.2 1465.9 259.1 1465.3 262.2 1464.8 265.3 1464.5 268.4 1464.5 271.9 1464.8 275.6 1465.3 279.1 1465.9 282.2 1466.2 283.8"/>
<path d="M1511.2 270 1509.7 270.9 1506.6 272.8 1503.1 275 1499.4 277.5 1495.9 279.7 1492.8 281.6 1490.3 283.8 1488.4 286.2 1486.9 289.1 1485.6 292.2 1484.4 295 1483.1 297.5 1481.9 299.8 1480.6 302 1480 303.1"/>
<path d="M1387.5 291.2 1389.4 291.1 1393.1 290.8 1396.9 290.5 1400.6 290.2 1404.4 289.7 1408.1 289.1 1410.3 289.4 1410.9 290.6 1412.5 291.2 1415 291.2 1417.8 291.1 1420.9 290.8 1423.8 290.9 1426.2 291.6 1428.4 291.7 1430.3 291.4 1431.4 290 1431.7 287.5 1431.7 285.2 1431.4 283 1430.6 281.4 1429.4 280.5 1428.8 280"/>
<path d="M1405 315 1406.9 314.1 1410.6 312.2 1415 310.8 1420 309.8 1425 309.1 1430 308.4 1435 307.7 1440 306.7 1444.7 305.9 1449.1 305.3 1453.4 305.3 1457.8 305.9 1461.9 306.1 1465.6 305.8 1469.4 305.3 1473.1 304.7 1475 304.4"/>
<path d="M1528.1 335 1528.6 333.8 1529.5 331.2 1530.5 328.8 1531.4 326.2 1531.9 325"/>
<path d="M1470 101.9 1469.7 103.3 1469.1 106.1 1469.4 108.1 1470.6 109.4 1472.8 110.6 1475.9 111.9 1479.1 113.1 1482.2 114.4 1484.5 115.6 1486.1 116.9 1486.4 118.4 1485.5 120.3 1484.4 122.5 1483.1 125 1483.3 126.9 1484.8 128.1 1485.9 129.7 1486.6 131.6 1487.2 133.8 1487.8 136.2 1488.9 138.4 1490.5 140.3 1491.9 142 1493.1 143.6 1492.8 145.3 1490.9 147.2 1488.8 148.6 1486.2 149.5 1483.4 150.2 1480.3 150.5 1479.4 151.4 1480.6 153 1481.7 154.7 1482.7 156.6 1482.7 158.8 1481.7 161.2 1480 163.1 1477.5 164.4 1475 165.8 1472.5 167.3 1469.7 168.6 1466.6 169.5 1463.8 170.5 1461.2 171.4 1458.8 173 1456.2 175.2 1454.4 177.2 1453.1 179.1 1453.1 180.9 1454.4 182.8 1454.7 185 1454.1 187.5 1452.2 189.2 1449.1 190.2 1445.9 191.4 1442.8 193 1439.7 193.8 1436.6 193.8 1433.4 193.4 1430.3 192.8 1427.2 192.2 1424.1 191.6 1421.6 190.9 1419.7 190.3 1417.8 190.9 1415.9 192.8 1413.8 194.5 1411.2 196.1 1409.1 197.2 1407.2 197.8 1405.6 197.7 1404.4 196.7 1402.8 197 1400.9 198.6 1398.8 199.8 1396.2 200.8 1393.1 201.6 1389.4 202.2 1386.6 201.9 1384.7 200.6 1383 200 1381.4 200 1380.2 200.9 1379.2 202.8 1378.1 205 1376.9 207.5 1377.2 209.7 1379.1 211.6 1380.5 213.4 1381.4 215.3 1381.2 216.9 1380 218.1 1379.1 220.3 1378.4 223.4 1378.4 226.6 1379.1 229.7 1380 233.1 1381.2 236.9 1382.3 240.6 1383.3 244.4 1384.2 247.8 1385.2 250.9 1385.8 254.1 1386.1 257.2 1386.6 259.3 1387.4 260.4 1387.8 261" stroke-width="2.3"/>
<path d="M1007.5 211.9 1008.3 213.1 1009.8 215.6 1010.8 218 1011.1 220.2 1011.4 222.5 1011.7 225 1011.7 227.8 1011.4 230.9 1011.1 234.1 1010.8 237.2 1011.1 239.7 1012 241.6 1012.8 243.4 1013.4 245.3 1013.1 246.9 1011.9 248.1 1011.6 249.7 1012.2 251.6 1013.1 253.8 1014.4 256.2 1013.8 257.2 1011.2 256.6 1008.8 256.7 1006.2 257.7 1003.8 258.9 1001.2 260.5 999.2 262.2 997.7 264.1 997.2 266.2 997.8 268.8 998.4 271.6 999.1 274.7 998.9 277.5 998 280 996.9 282.2 995.6 284.1 995.8 285.9 997.3 287.8 998.8 289.7 1000 291.6 1000.2 293.8 999.2 296.2 998.1 298.8 996.9 301.2 995.3 303.8 993.4 306.2 991.9 308.4 990.6 310.3 990.3 312.5 990.9 315 991.9 317.2 993.1 319.1 994.5 321.2 996.1 323.8 997.2 326.6 997.8 329.9 998.1 331.5" stroke-width="2.3"/>
<path d="M1406.9 263.8 1408.6 263.1 1412 261.9 1415.3 260 1418.4 257.5 1421.6 255.3 1424.7 253.4 1427.2 251.2 1429.1 248.8 1430.6 246.6 1431.9 244.7 1433.8 243.3 1436.2 242.3 1438.8 241.4 1441.2 240.5 1443.8 240.3 1446.2 240.9 1448.8 240.9 1451.2 240.3 1453.8 239.8 1456.2 239.5 1458.8 239.8 1461.2 240.8 1463.4 241.9 1465.3 243.1 1467.5 244.2 1470 245.2 1472.2 245.8 1474.1 246.1 1476.2 246.9 1478.8 248.1 1481.2 249.7 1483.8 251.6 1486.2 253.4 1488.8 255.3 1490.9 257.2 1492.8 259.1 1495 260.9 1497.5 262.8 1499.7 264.7 1501.6 266.6 1503.4 268.1 1505.3 269.4 1507.5 270.2 1510 270.5 1511.2 270.6" stroke-width="2.3"/>
<path d="M1511.2 270 1510.6 270.9 1509.4 272.8 1508.1 274.7 1506.9 276.6 1505.9 278.8 1505.3 281.2 1505.5 283.4 1506.4 285.3 1507.7 287.5 1509.2 290 1510.9 292.5 1512.8 295 1514.7 297.2 1516.6 299.1 1518.8 300.9 1521.2 302.8 1523.4 304.7 1525.3 306.6 1526.4 309.1 1526.7 312.2 1527.2 315.3 1527.8 318.4 1528.9 321.1 1530.5 323.3 1532.5 325 1535 326.2 1537.2 327.7 1539.1 329.2 1541.2 330.9 1543.8 332.8 1546.2 334.4 1548.8 335.6 1550.6 337.2 1551.9 339.1 1552.2 340.6 1551.6 341.9 1550.3 343.1 1548.4 344.4 1546.6 345.6 1544.7 346.9 1542.5 347.5 1540 347.5 1537.5 347.8 1535 348.4 1532.5 349.5 1530 351.1 1527.2 352.3 1524.1 353.3 1520.6 354.1 1516.9 354.7 1513.4 355.5 1510.3 356.4 1507.3 357.3 1504.5 358.3 1503.3 359.7 1503.6 361.6 1503.1 363.8 1501.9 366.2 1500.8 369.1 1499.8 372.2 1499.5 375.3 1499.8 378.4 1500 380" stroke-width="2.3"/>
</g>
<g fill="none" stroke="#2c7fae" stroke-width="1.9" stroke-linejoin="round" clip-path="url(#tc)">
<path d="M1100.6 131.2 1101.7 132.5 1103.9 135 1106.1 137.2 1108.3 139.1 1109.5 141.2 1109.8 143.8 1109.5 146.6 1108.6 149.7 1107.3 152.5 1105.8 155 1104.1 157.5 1102.2 160 1099.7 162 1096.6 163.6 1093.1 164.8 1089.4 165.8 1086.6 167.2 1084.7 169.1 1083.4 171.6 1082.8 174.7 1081.6 177.8 1079.7 180.9 1078.3 184.4 1077.3 188.1 1075.8 191.6 1073.6 194.7 1071.2 197.5 1068.8 200 1066.2 202.2 1063.8 204.1 1060.9 205.9 1057.8 207.8 1055 209.4 1052.5 210.6 1050.6 211.9 1049.4 213.3 1048.8 214"/>
<path d="M1067.5 310 1068.4 308.8 1070.3 306.2 1072.8 303.4 1075.9 300.3 1078.8 297.5 1081.2 295 1083.8 292.5 1086.2 290 1088.8 287.2 1091.2 284.1 1093.4 280.9 1095.3 277.8 1097.2 274.7 1099.1 271.6 1100.2 268.1 1100.5 264.4 1100.2 261.4 1099.2 259.2 1097.2 257.7 1094.1 256.7 1090.9 255.6 1087.8 254.4 1085 253.1 1082.5 251.9 1081.2 250.3 1081.2 248.4 1081.9 246.9 1083.1 245.6 1085.3 243.8 1088.4 241.2 1091.6 238.8 1094.7 236.2 1098.1 234.2 1101.9 232.7 1105.9 231.1 1110.3 229.5 1114.4 228.1 1118.1 226.9 1121.9 226.6 1125.6 227.2 1129.1 226.6 1132.2 224.7 1135.3 222.2 1138.4 219.1 1141.9 216.6 1145.6 214.7 1149.4 213.1 1153.1 211.9 1155 211.2 1155 211.2 1156.9 210.5 1160.6 208.9 1164.7 207.3 1169.1 205.8 1173.4 204.2 1177.8 202.7 1181.9 201.3 1185.6 200.3 1188.4 200.6 1190.3 202.3 1192.5 203.9 1195 205.5 1197.8 206.6 1200.9 207.2 1204.1 208.1 1207.2 209.4 1210 210.8 1212.5 212.3 1215.3 213.1 1218.4 213.1 1221.9 213 1225.6 212.7 1228.8 213.3 1231.2 214.8 1234.1 215.8 1237.2 216.1 1241.9 215 1248.1 212.5 1253.8 210.8 1258.8 209.8 1264.4 208.8 1270.6 207.5 1276.6 205.2 1282.2 201.7 1286.9 199.1 1290.6 197.2 1294.4 195.3 1298.1 193.4 1300.8 191.2 1302.3 188.8 1304.2 186.2 1306.4 183.8 1309.1 181.2 1312.2 178.8 1315.6 176.2 1319.4 173.8 1322.8 172 1325.9 171.1 1328.8 169.2 1331.2 166.4 1334.1 163.4 1337.2 160.3 1340.6 157.5 1344.4 155 1348.4 152.5 1352.8 150 1355 148.8 1355 148.8 1356.6 148.4 1359.7 147.8 1362.8 147 1365.9 146.1 1368.4 145 1370.3 143.8 1372.2 142 1374.1 139.8 1376.2 137.2 1378.8 134.1 1381.2 130.9 1383.8 127.8 1385.8 125 1387.3 122.5 1388.9 119.7 1390.5 116.6 1392.5 114.2 1395 112.7 1396.7 111.9 1397.7 111.9 1398.1 110.8 1398.1 108.6 1397.7 106.2 1396.7 103.8 1395.6 101.2 1394.4 98.8 1393.1 96.1 1391.9 93.3 1390.8 90.3 1389.8 87.2 1389.4 85.6"/>
<path d="M1428.8 280 1430.6 280 1434.4 280 1437.8 280.2 1440.9 280.5 1443.1 281.4 1444.4 283 1446.6 284.1 1449.7 284.7 1453.1 285 1456.9 285 1460.3 285 1463.4 285 1465.9 285.9 1467.8 287.8 1469.4 290 1470.6 292.5 1471.9 295 1473.1 297.5 1474.4 299.8 1475.6 302 1477.8 304.2 1480.9 306.4 1484.1 308.9 1487.2 311.7 1490.3 314.7 1493.4 317.8 1496.2 320.8 1498.8 323.6 1501.2 325.9 1503.8 327.8 1506.6 329.2 1509.7 330.2 1512.2 330.9 1514.1 331.6 1516.6 332.3 1519.7 333.3 1522.8 334.2 1525.9 335.2 1528.8 336.4 1531.2 338 1534.1 340 1537.2 342.5 1540 344.7 1542.5 346.6 1543.8 347.5"/>
<path d="M1513.8 331.9 1513.4 333 1512.8 335.2 1511.9 337.2 1510.6 339.1 1508.4 340.6 1505.3 341.9 1502.2 343.1 1499.1 344.4 1495.6 345.6 1491.9 346.9 1488.1 348.3 1484.4 349.8 1480.6 351.2 1476.9 352.5 1473.1 353.8 1469.4 355 1465.6 355.9 1461.9 356.6 1458.1 356.9 1454.4 356.9 1450.6 357 1446.9 357.3 1443.1 357.7 1439.4 358 1437.5 358.1"/>
</g>
<path d="M1010.6 216.9 1017.5 218.5 1025 220.6 1032.5 219.4 1040 216.9 1048.8 214 1051.2 217.5 1055 222.5 1051.2 226.2 1048.1 231.2 1045.6 236.9 1044.4 241.2 1044 245.6 1037.5 247.5 1030 248.8 1023.8 250.6 1018.8 253.8 1015 257.5 1012.5 252.5 1011.2 248.8 1013.8 246.2 1012.5 242.5 1010.6 238.8 1011.2 232.5 1011.9 226.2 1011.2 221.2Z" fill="#1aabff" stroke="#4a4f55" stroke-width="1.8" stroke-linejoin="round"/>
<g fill="none" stroke="#454545" stroke-width="3" stroke-linejoin="round" stroke-linecap="round">
<path d="M1007.5 211.6 1008.8 211.4 1011.2 210.9 1013.8 210.5 1016.2 210.2 1018.8 209.4 1021.2 208.1 1023.8 206.7 1026.2 205.2 1028.8 203.9 1031.2 203 1033.8 201.7 1036.2 200.2 1038.8 197.8 1041.2 194.7 1043.1 191.7 1044.4 188.9 1045.9 186.6 1047.8 184.7 1049.7 183.1 1051.6 181.9 1053.4 180.9 1055.1 180.3 1055.8 179.4 1055.2 178.1 1055.9 176.6 1057.8 174.7 1059.5 172.2 1061.1 169.1 1062 166.2 1062.3 163.8 1062.2 161.6 1061.6 159.7 1061.1 157.5 1060.8 155 1060 153 1058.8 151.4 1057.6 149.5 1056.5 147.3 1056.4 145 1057.1 142.5 1057.8 140 1058.4 137.5 1058.6 135 1058.3 132.5 1057.8 130.3 1057.2 128.4 1056.4 126.7 1055.5 125.2 1055.5 123.9 1056.4 123 1058 122.4 1060.2 122.2 1062 122.2 1063.6 122.4 1064.1 123.3 1063.4 124.8 1062.7 126.2 1061.7 127.5 1061.4 128.8 1061.7 130 1062.8 131.2 1064.7 132.2 1066.7 133 1068.9 133.5 1071.2 134.1 1073.8 134.7 1076.9 135.2 1080.6 135.5 1083 134.5 1083.9 132.3 1084.7 130.5 1085.3 128.9 1086.2 127.8 1087.5 127.2 1089.2 127.3 1091.4 128.1 1094.1 128.7 1097.2 129.2 1100.3 129.5 1103.4 129.8 1105.8 130.6 1107.3 131.9 1109.2 133 1111.4 133.9 1113.8 134.8 1116.2 135.8 1118.1 137.2 1119.4 139.1 1121.2 139.9 1123.8 139.8 1126.2 139.3 1128.8 138.5 1131.6 137.8 1134.7 137.2 1138.1 136.8 1141.9 136.7 1144.4 137.5 1145.6 139.2 1147 140.5 1148.6 141.4 1148.9 142.5 1148 143.8 1146.1 144.7 1143.3 145.3 1141.6 146.4 1140.9 148 1141.1 149.4 1142 150.6 1144.2 151.2 1147.7 151.2 1150.5 151.9 1152.7 153.1 1154.1 154.5 1154.7 156.1 1155.6 157.7 1156.9 159.2 1158.1 161.2 1159.4 163.8 1160.2 166.6 1160.5 169.7 1161.1 171.9 1162 173.1 1164.4 174 1168.1 174.5 1172.5 174.8 1177.5 174.8 1181.9 174.7 1185.6 174.5 1188.1 173.8 1189.4 172.5 1191.6 171.4 1194.7 170.5 1198.4 169.5 1202.8 168.6 1206.2 168.2 1208.8 168.4 1210 169.8 1210 172.4 1210.5 174.1 1211.4 174.7 1213 174.7 1215.2 174.1 1217.2 172.5 1219.1 170 1221.2 167.8 1223.8 165.9 1226.2 164.1 1228.8 162.2 1231.9 160.8 1235.6 159.8 1239.4 159.4 1243.1 159.4 1245.3 158.8 1245.9 157.5 1245.6 155.9 1244.4 154.1 1243 152.8 1241.4 152.2 1241.1 151.1 1242 149.5 1243.4 147.8 1245.3 145.9 1247 143.9 1248.6 141.7 1250 140.9 1251.2 141.6 1252.7 141.9 1254.2 141.9 1256.6 141.7 1259.7 141.4 1263.4 141.1 1267.8 140.8 1271.4 140.3 1274.2 139.7 1276.4 138.6 1278 137 1279.1 134.7 1279.7 131.6 1280.3 128.4 1280.9 125.3 1282 123 1283.6 121.4 1285.2 120.2 1286.7 119.2 1288.8 119 1291.2 119.5 1294.4 119.8 1298.1 119.9 1302.5 119.7 1307.5 119.1 1312.5 118.6 1317.5 118.3 1322.2 118.3 1326.6 118.6 1329.1 118 1329.7 116.4 1331.2 115 1333.8 113.8 1336.9 112.7 1340.6 111.7 1344.4 110.9 1348.1 110.3 1351.2 109.5 1353.8 108.6 1356.2 108.3 1358.8 108.8 1361.2 109.1 1363.8 109.3 1366.6 109.2 1369.7 108.9 1372.8 109.1 1375.9 109.7 1379.1 110.3 1382.2 110.9 1385.3 111 1388.4 110.5 1391.6 110.3 1394.7 110.5 1396.7 110.9 1397.7 111.6 1398.1 110.8 1398.1 108.6 1397.7 106.2 1396.7 103.8 1395.6 101.2 1394.4 98.8 1393.1 96.1 1391.9 93.3 1390.8 90.3 1389.8 87.2 1390.2 85.2 1391.7 84.2 1393.8 83.3 1396.2 82.3 1398.6 80.9 1400.8 79.1 1402.5 77.2 1403.8 75.3 1405 74.1 1406.2 73.4 1407.2 73.6 1407.8 74.5 1407.8 75.9 1407.2 77.8 1406.7 79.7 1406.4 81.6 1406.6 83.8 1407.2 86.2 1408.3 87.8 1409.8 88.2 1412 87.9 1414.8 86.8 1417.8 86.1 1420.9 85.8 1423.8 86.1 1426.2 87 1428.8 87.1 1431.2 86.4 1433.8 85.8 1436.2 85.2 1438.8 85.2 1441.2 85.5 1443 86.7 1443.9 88.9 1445.2 91.2 1446.7 93.8 1448.4 96.1 1450.3 98.3 1452.2 100.5 1454.1 102.7 1455.9 103.4 1457.8 102.8 1459.7 102.2 1461.6 101.6 1464.4 101.4 1468.1 101.7 1470 101.9"/>
<path d="M998.1 331.5 999.8 331.1 1003.3 330.4 1006.6 329.7 1009.7 329.1 1012.2 328.1 1014.1 326.9 1015.3 325 1015.9 322.5 1016.1 320 1015.8 317.5 1016.1 314.7 1017 311.6 1018.8 309.8 1021.2 309.5 1023.8 309.5 1026.2 309.8 1028.8 309.7 1031.2 309.1 1033 307.5 1033.9 305 1035 302.2 1036.2 299.1 1037.7 296.2 1039.2 293.8 1040.9 292.2 1042.8 291.6 1044.7 290.9 1046.6 290.3 1048.4 290.8 1050.3 292.3 1052 293.9 1053.6 295.5 1054.5 297.2 1054.8 299.1 1055.9 300.8 1057.8 302.3 1060 303.8 1062.5 305 1064.4 305.9 1065.6 306.6 1066.1 308.3 1065.8 311.1 1065.2 314.4 1064.2 318.1 1063.4 321.6 1062.8 324.7 1062.3 327.5 1062 330 1063.3 331.6 1066.1 332.2 1069.1 332.8 1072.2 333.4 1075 333.9 1077.5 334.2 1080 333.9 1082.5 333 1085.3 331.9 1088.4 330.6 1091.6 329.4 1094.7 328.1 1097.5 326.9 1100 325.6 1102.2 325.3 1104.1 325.9 1105.6 327.2 1106.9 329.1 1108.4 330.8 1110.3 332.3 1112.2 333.6 1114.1 334.5 1115.6 335.8 1116.9 337.3 1118.1 338.9 1119.4 340.5 1119.1 342.2 1117.2 344.1 1115.5 345.6 1113.9 346.9 1113.3 348.1 1113.6 349.4 1115 349.8 1117.5 349.5 1119.8 349.1 1122 348.4 1123.9 348.6 1125.5 349.5 1127.2 350.6 1129.1 351.9 1131.2 352.5 1133.8 352.5 1136.2 353 1138.8 353.9 1140.9 354.8 1142.8 355.8 1145 356.1 1147.5 355.8 1150.3 355.4 1153.4 355 1156.6 354.7 1159.7 354.5 1162.8 354.5 1165.9 354.7 1168.6 354.8 1170.8 354.9 1172.3 353.8 1173.3 351.2 1175 348.4 1177.5 345.3 1179.5 341.9 1181.1 338.1 1182.2 334.4 1182.8 330.6 1183.6 326.6 1184.5 322.2 1185.3 318.1 1185.9 314.4 1186.9 311.6 1188.1 309.7 1190.3 308.4 1193.4 307.8 1195.8 306.2 1197.3 303.8 1198.3 301.6 1198.6 299.7 1200 298.4 1202.5 297.8 1205.3 297 1208.4 296.1 1211.9 295 1215.6 293.8 1219.4 292.7 1223.1 291.7 1226.6 291.1 1229.7 290.8 1232.5 290.8 1235 291.1 1237.2 292.2 1239.1 294.1 1241.2 295.5 1243.8 296.4 1246.2 296.6 1248.8 295.9 1251.2 294.5 1253.8 292.3 1255.9 290 1257.8 287.5 1259.7 285.9 1261.6 285.3 1263.4 285.3 1265.3 285.9 1267.2 287.2 1269.1 289.1 1270.9 290 1272.8 290 1275.3 289.2 1278.4 287.7 1281.6 286.1 1284.7 284.5 1287.2 284.1 1289.1 284.7 1290.9 285.6 1292.8 286.9 1295.3 287.7 1298.4 288 1301.2 288.3 1303.8 288.6 1305.9 289.7 1307.8 291.6 1309.7 293.1 1311.6 294.4 1313.4 294.7 1315.3 294.1 1317.2 292.8 1319.1 290.9 1321.6 289.5 1324.7 288.6 1327.8 287.5 1330.9 286.2 1333.8 284.8 1336.2 283.3 1339.1 281.9 1342.2 280.6 1345 279.1 1347.5 277.2 1350.3 275.6 1353.4 274.4 1355 273.4 1355 272.8 1356.9 271.9 1360.6 270.6 1364.4 269.4 1368.1 268.1 1371.9 266.9 1375.6 265.6 1379.4 264.2 1383.1 262.7 1386.9 261.4 1390.6 260.5 1394.1 259.8 1397.2 259.5 1400 259.8 1402.5 260.8 1404.5 261.9 1406.1 263.1 1406.9 263.8"/>
<path d="M1406.9 263.8 1406.4 264.7 1405.5 266.6 1404.7 268.4 1404.1 270.3 1403.4 272.3 1402.8 274.5 1401.6 276.2 1399.7 277.5 1397.2 278.6 1394.1 279.5 1391.2 280.5 1388.8 281.4 1387.3 283 1387 285.2 1387.3 287.5 1388.3 290 1389.4 292.5 1390.6 295 1391.9 297.5 1393.1 300 1393.4 302.5 1392.8 305 1392.2 307.2 1391.6 309.1 1392.5 310.3 1395 310.9 1397.2 311.9 1399.1 313.1 1400.9 314.7 1402.8 316.6 1404.4 318 1405.6 318.9 1407.2 318.9 1409.1 318 1411.2 317.5 1413.8 317.5 1415.9 318.8 1417.8 321.2 1419.4 323.8 1420.6 326.2 1421.6 328.8 1422.2 331.2 1421.9 333.8 1420.6 336.2 1419.8 338.8 1419.5 341.2 1419.8 343.1 1420.8 344.4 1422.5 345.3 1425 345.9 1427.5 346.7 1430 347.7 1432 348.9 1433.6 350.5 1434.5 352.5 1434.8 355 1435.6 357.5 1436.9 360 1438.1 362.2 1439.4 364.1 1441.2 365.6 1443.8 366.9 1446.2 368.4 1448.8 370.3 1451.2 371.9 1453.8 373.1 1456.2 374.2 1458.8 375.2 1461.2 375.8 1463.8 376.1 1466.2 376.9 1468.8 378.1 1471.2 379.4 1473.8 380.6 1476.2 381.2 1478.8 381.2 1481.2 381.1 1483.8 380.8 1486.2 380.5 1488.8 380.2 1491.2 380 1493.8 380 1496.2 380 1498.8 380 1500 380"/>
<path d="M1500 380 1500.9 380.5 1502.8 381.4 1504.7 382.7 1506.6 384.2 1508.8 384.8 1511.2 384.5 1513.8 384.2 1516.2 383.9 1518.8 384.2 1521.2 385.2 1523.8 386.1 1526.2 387 1527.8 388.4 1528.4 390.3 1529.7 391.7 1531.6 392.7 1534.7 393.3 1539.1 393.6 1544.4 393.8 1550.6 393.8 1556.9 393.6 1563.1 393.3 1569.7 393 1576.6 392.7 1580 392.5"/>
<path d="M957.5 135.6 959.2 135.3 962.7 134.7 964.5 135.2 964.8 136.7 965.6 138.4 966.9 140.3 968.1 142.3 969.4 144.5 970.6 146.6 971.9 148.4 973.4 149.5 975.3 149.8 977.2 150.3 979.1 150.9 980.5 152.2 981.4 154.1 982.5 155.9 983.8 157.8 985.3 159.1 987.2 159.7 988.4 160.6 989.1 161.9 989.7 163.4 990.3 165.3 990.2 167 989.2 168.6 988 170 986.4 171.2 985.9 172.7 986.6 174.2 987.2 175.9 987.8 177.8 988.4 179.8 989.1 182 989.7 184.1 990.3 185.9 991.4 185.9 993 184.1 994.7 183.1 996.6 183.1 998.8 182.8 1001.2 182.2 1003.1 181.2 1004.4 180 1005.9 179.2 1007.8 178.9 1009.8 178.9 1012 179.2 1013.9 179.5 1015.5 179.8 1016.1 181.2 1015.8 183.8 1015.2 185.9 1014.2 187.8 1013 189.7 1011.4 191.6 1010.8 193.4 1011.1 195.3 1011.4 197.2 1011.7 199.1 1011.4 200.8 1010.5 202.3 1009.4 203.6 1008.1 204.5 1006.9 205.8 1005.6 207.3 1005 208.8 1005 210 1005.6 210.9 1006.9 211.4 1007.5 211.6"/>
<path d="M957.5 313.8 959.4 313.9 963.1 314.2 965.9 315.2 967.8 316.7 970 318.1 972.5 319.4 974.8 320.9 977 322.8 978.9 324.8 980.5 327 982.5 328.3 985 328.6 987.5 329.7 990 331.6 993 332.2 996.4 331.8 998.1 331.5"/>
<path d="M1061.9 331.2 1061.6 333.1 1060.9 336.9 1060.2 340.6 1059.2 344.4 1058.4 347.8 1057.8 350.9 1057.6 353.4 1057.7 355.3 1056.6 356.9 1054.2 358.3 1052.5 361 1051.5 365 1050.5 369 1049.5 373 1048.5 377 1047.5 381 1047.5 384.5 1048.5 387.5 1050.5 390 1053.5 392 1057 394 1061 396 1063.8 398.5 1065.2 401.5 1065.8 405 1065.2 409 1064.8 413.2 1064.2 417.8 1064 420"/>
<path d="M985 420 986 416.8 988 410.2 989.5 405.5 990.5 402.5 993.5 400.5 998.5 399.5 1003 398.2 1007 396.8 1011 395.5 1015 394.5 1017.5 395.8 1018.5 399.2 1020 403 1022 407 1024.5 410.5 1027.5 413.5 1030.5 415.8 1033.5 417.2 1037.5 418.2 1042.5 418.8 1047 419.2 1051 419.8 1053 420"/>
<path d="M1470 101.9 1470.2 100.5 1470.5 97.7 1471.2 95 1472.5 92.5 1474.5 90.8 1477.3 89.8 1480.6 89.1 1484.4 88.4 1488.1 88 1491.9 87.7 1495.3 87.7 1498.4 88 1500.9 88.6 1502.8 89.5 1504.5 90.3 1506.1 90.9 1506.4 92.2 1505.5 94.1 1505.8 95.9 1507.3 97.8 1509.4 100 1511.9 102.5 1514.2 104.4 1516.4 105.6 1516.6 106.9 1514.7 108.1 1513 109.7 1511.4 111.6 1510.5 113.8 1510.2 116.2 1510.6 118.8 1511.9 121.2 1513.8 123.1 1516.2 124.4 1518.8 125.3 1521.2 125.9 1523.4 127.3 1525.3 129.5 1527.5 131.7 1530 133.9 1532.5 135.9 1535 137.8 1537.8 139.4 1540.9 140.6 1543.8 141.6 1546.2 142.2 1548.4 143.1 1550.3 144.4 1552.2 145.6 1554.1 146.9 1554.5 147.4 1553.5 147.1 1554 146 1556 144 1558 142.2 1560 140.8 1561.2 138.2 1561.8 134.8 1561.5 131.5 1560.5 128.5 1560.5 125 1561.5 121 1561.8 117.5 1561.2 114.5 1562.5 111.5 1565.5 108.5 1567.8 105 1569.2 101 1569.8 97 1569.2 93 1568 89 1566 85 1564 81.5 1562 78.5 1559.2 76.2 1555.8 74.8 1551.8 74.8 1547.2 76.2 1543.5 76.8 1540.5 76.2 1537.8 75.2 1535.2 73.8 1533.8 71.8 1533.2 69.2 1534 66.5 1536 63.5 1537.2 60.8 1537.8 58.2 1539.5 55 1542.5 51 1545.5 46.5 1548.5 41.5 1548.8 36.5 1546.2 31.5 1543.6 26.5 1540.8 21.5 1539.4 19"/>
</g>
<g fill="none" stroke="#2b7db0" stroke-width="1.1" stroke-linejoin="round">
<path d="M1539.4 19 1540.8 21.5 1543.6 26.5 1546.2 31.5 1548.8 36.5 1548.5 41.5 1545.5 46.5 1542.5 51 1539.5 55 1537.8 58.2 1537.2 60.8 1537 62"/>
<path d="M1398.1 111.9 1398.1 110.8 1398.1 108.6 1397.7 106.2 1396.7 103.8 1395.6 101.2 1394.4 98.8 1393.1 96.1 1391.9 93.3 1390.8 90.3 1389.8 87.2 1389.4 85.6"/>
</g>
<circle cx="1020.9" cy="230.6" r="5.2" fill="#e3191c" stroke="#7a1a1a" stroke-width="0.7"/>
<rect x="1239.95" y="206.55" width="10.1" height="9.5" fill="#f2f2f2" stroke="#000" stroke-width="2.3"/>
<text x="1252.2" y="207.8" font-size="24px" text-anchor="middle" style="font-family:'DejaVu Sans Mono','Liberation Mono',monospace">I</text>
<text x="1257.2" y="207.8" font-size="24px" style="font-family:'DejaVu Sans Condensed','DejaVu Sans','Liberation Sans',sans-serif" textLength="28.6" lengthAdjust="spacingAndGlyphs">BK</text>
</g>
<rect x="958.5" y="18.8" width="621" height="401.6" fill="none" stroke="#000" stroke-width="1.85"/>
</svg>
<svg class="abs" id="chart" width="1513" height="606" viewBox="0 0 1513 606" style="left:50px;top:460px">
<rect x="0" y="0" width="1513" height="606" fill="#fafafa"/>
<g stroke="#a0a0a0" stroke-width="1" stroke-dasharray="1 2.65" fill="none">
<path d="M166.33 90.3V550.9"/>
<path d="M254.25 90.3V550.9"/>
<path d="M342.18 90.3V550.9"/>
<path d="M430.11 90.3V550.9"/>
<path d="M518.03 90.3V550.9"/>
<path d="M605.96 90.3V550.9"/>
<path d="M693.89 90.3V550.9"/>
<path d="M781.81 90.3V550.9"/>
<path d="M869.74 90.3V550.9"/>
<path d="M957.67 90.3V550.9"/>
<path d="M1045.59 90.3V550.9"/>
<path d="M1133.52 90.3V550.9"/>
<path d="M1221.45 90.3V550.9"/>
<path d="M1309.37 90.3V550.9"/>
<path d="M78.4 458.78H1397.3"/>
<path d="M78.4 366.66H1397.3"/>
<path d="M78.4 274.54H1397.3"/>
<path d="M78.4 182.42H1397.3"/>
</g>
<g stroke-width="1.2">
<rect x="268.4" y="542.2" width="88" height="8.7" fill="#a5fca5" stroke="#3cf03c"/>
<rect x="268.4" y="544.5" width="88" height="6.4" fill="#a6a6fc" stroke="#2c2cf2"/>
<rect x="356.4" y="498.4" width="88.2" height="52.5" fill="#a5fca5" stroke="#3cf03c"/>
<rect x="356.4" y="505.3" width="88.2" height="45.6" fill="#a6a6fc" stroke="#2c2cf2"/>
<rect x="444.6" y="539.2" width="87.8" height="11.7" fill="#a5fca5" stroke="#3cf03c"/>
<rect x="444.6" y="539.4" width="87.8" height="11.5" fill="#a6a6fc" stroke="#2c2cf2"/>
<rect x="532.4" y="523.2" width="88.3" height="27.7" fill="#a5fca5" stroke="#3cf03c"/>
<rect x="532.4" y="523.4" width="88.3" height="27.5" fill="#a6a6fc" stroke="#2c2cf2"/>
<rect x="620.7" y="529.2" width="87.8" height="21.7" fill="#a5fca5" stroke="#3cf03c"/>
<rect x="620.7" y="529.4" width="87.8" height="21.5" fill="#a6a6fc" stroke="#2c2cf2"/>
<rect x="708.5" y="549.9" width="88" height="1" fill="#a6a6fc" stroke="#2c2cf2"/>
<rect x="796.5" y="550" width="87.9" height="0.9" fill="#a6a6fc" stroke="#2c2cf2"/>
<rect x="884.4" y="541.3" width="88.1" height="9.6" fill="#a5fca5" stroke="#3cf03c"/>
<rect x="884.4" y="541.5" width="88.1" height="9.4" fill="#a6a6fc" stroke="#2c2cf2"/>
<rect x="972.5" y="543.5" width="87.8" height="7.4" fill="#a5fca5" stroke="#3cf03c"/>
<rect x="972.5" y="543.75" width="87.8" height="7.15" fill="#a6a6fc" stroke="#2c2cf2"/>
<rect x="1060.3" y="542.6" width="88.45" height="8.3" fill="#a5fca5" stroke="#3cf03c"/>
<rect x="1060.3" y="542.8" width="88.45" height="8.1" fill="#a6a6fc" stroke="#2c2cf2"/>
<rect x="1148.75" y="550" width="88.15" height="0.9" fill="#a6a6fc" stroke="#2c2cf2"/>
</g>
<rect x="1118" y="91.3" width="278.3" height="58" fill="#fafafa"/>
<polyline points="78.4,429.4 91.72,442.8 105.04,451.7 118.37,456.7 131.69,460.6 145.01,465.8 158.33,472.2 171.66,478.6 184.98,482.8 198.3,482.8 211.62,475.9 224.94,458.75 238.27,429.8 251.59,397 264.91,368.9 278.23,353.75 291.56,351.9 304.88,360.8 318.2,377.8 331.52,398.1 344.84,418.1 358.17,434.8 371.49,445.9 384.81,453.6 398.13,461.1 411.46,468.75 424.78,473.6 438.1,467.8 451.42,445 464.74,408.3 478.07,369.2 491.39,340 504.71,328.1 518.03,328.6 531.36,334.8 544.68,340.8 558,346.4 571.32,352.8 584.64,361.4 597.97,373.8 611.29,385.8 624.61,396.7 637.93,406.3 651.26,416.4 664.58,428.8 677.9,445 691.22,464.1 704.54,484.1 717.87,502.6 731.19,517.5 744.51,527.4 757.83,530.7 771.16,525.7 784.48,512.4 797.8,488.5 811.12,455.6 824.44,420.1 837.77,388.3 851.09,364 864.41,350.4 877.73,345.8 891.06,350 904.38,359.1 917.7,368.2 931.02,370.4 944.34,363.1 957.67,355.9 970.99,356 984.31,370.6 997.63,394.3 1010.96,418.3 1024.28,430.7 1037.6,431.1 1050.92,422.5 1064.24,407.9 1077.57,391.4 1090.89,376.1 1104.21,368.2 1117.53,369.5 1130.86,375.9 1144.18,381.9 1157.5,381.9 1170.82,377 1184.14,371.9 1197.47,370.4 1210.79,374.2 1224.11,381.5 1237.43,389.2 1250.76,395.8 1264.08,402.8 1277.4,414.2 1290.72,429.4 1304.04,446.7 1317.37,467 1330.69,477.4 1344.01,480.2 1357.33,480.4 1370.66,482.3 1383.98,488.4 1397.3,495.8" fill="none" stroke="#000" stroke-width="1.5" stroke-linejoin="round"/>
<g stroke="#000" stroke-width="1.3" fill="none">
<path d="M166.33 550.9v-7M166.33 90.3v7"/>
<path d="M254.25 550.9v-7M254.25 90.3v7"/>
<path d="M342.18 550.9v-7M342.18 90.3v7"/>
<path d="M430.11 550.9v-7M430.11 90.3v7"/>
<path d="M518.03 550.9v-7M518.03 90.3v7"/>
<path d="M605.96 550.9v-7M605.96 90.3v7"/>
<path d="M693.89 550.9v-7M693.89 90.3v7"/>
<path d="M781.81 550.9v-7M781.81 90.3v7"/>
<path d="M869.74 550.9v-7M869.74 90.3v7"/>
<path d="M957.67 550.9v-7M957.67 90.3v7"/>
<path d="M1045.59 550.9v-7M1045.59 90.3v7"/>
<path d="M1133.52 550.9v-7M1133.52 90.3v7"/>
<path d="M1221.45 550.9v-7M1221.45 90.3v7"/>
<path d="M1309.37 550.9v-7M1309.37 90.3v7"/>
<path d="M78.4 458.78h7M1397.3 458.78h-7"/>
<path d="M78.4 366.66h7M1397.3 366.66h-7"/>
<path d="M78.4 274.54h7M1397.3 274.54h-7"/>
<path d="M78.4 182.42h7M1397.3 182.42h-7"/>
</g>
<path d="M78.4 90.3H1397.3V550.9H78.4Z" fill="none" stroke="#000" stroke-width="1.6"/>
<path d="M77.6 550.9H1398.1" fill="none" stroke="#000" stroke-width="2"/>
<g font-size="18px" text-anchor="end">
<text x="1315.3" y="112">Niederschlag</text>
<text x="1315.3" y="129.6">Neuschnee</text>
<text x="1315.3" y="147.4">mittlerer Wind in 3000 m</text>
</g>
<rect x="1326.6" y="101.2" width="49.2" height="9.4" fill="#a5fca5" stroke="#3cf03c" stroke-width="1.2"/>
<rect x="1326.6" y="119.1" width="49.2" height="9.4" fill="#a6a6fc" stroke="#2c2cf2" stroke-width="1.2"/>
<path d="M1326 141.3H1376.3" stroke="#000" stroke-width="1.5"/>
<text x="738.25" y="33.3" font-size="18.17px" text-anchor="middle">LWD−Region 07 Westliche Lechtaler Alpen 2255m</text>
<text x="77.6" y="59" font-size="18px">Schneefallgrenze</text>
<g font-size="16px">
<text x="78.3" y="76.9">1700m</text>
<text x="166.23" y="76.9">1500m</text>
<text x="254.15" y="76.9">1700m</text>
<text x="342.08" y="76.9">1400m</text>
<text x="430.01" y="76.9">900m</text>
<text x="517.93" y="76.9">600m</text>
<text x="605.86" y="76.9">500m</text>
<text x="693.79" y="76.9">300m</text>
<text x="781.71" y="76.9">300m</text>
<text x="869.64" y="76.9">600m</text>
<text x="957.57" y="76.9">700m</text>
<text x="1045.49" y="76.9">400m</text>
<text x="1133.42" y="76.9">200m</text>
<text x="1221.35" y="76.9">100m</text>
<text x="1309.27" y="76.9">600m</text>
<text x="1397.2" y="76.9">600m</text>
</g>
<g font-size="18px" text-anchor="end">
<text x="68" y="556.6">0</text>
<text x="68" y="464.48">10</text>
<text x="68" y="372.36">20</text>
<text x="68" y="280.24">30</text>
<text x="68" y="188.12">40</text>
<text x="68" y="96">50</text>
</g>
<g font-size="18px">
<text x="1412.8" y="556.6">0</text>
<text x="1412.8" y="464.48">20</text>
<text x="1412.8" y="372.36">40</text>
<text x="1412.8" y="280.24">60</text>
<text x="1412.8" y="188.12">80</text>
<text x="1412.8" y="96">100</text>
</g>
<g font-size="18px" text-anchor="middle">
<text x="78.4" y="574.7">00h</text>
<text x="78.4" y="592.6">Di,25.02.</text>
<text x="166.33" y="574.7">06h</text>
<text x="166.33" y="592.6">Di,25.02.</text>
<text x="254.25" y="574.7">12h</text>
<text x="254.25" y="592.6">Di,25.02.</text>
<text x="342.18" y="574.7">18h</text>
<text x="342.18" y="592.6">Di,25.02.</text>
<text x="430.11" y="574.7">00h</text>
<text x="430.11" y="592.6">Mi,26.02.</text>
<text x="518.03" y="574.7">06h</text>
<text x="518.03" y="592.6">Mi,26.02.</text>
<text x="605.96" y="574.7">12h</text>
<text x="605.96" y="592.6">Mi,26.02.</text>
<text x="693.89" y="574.7">18h</text>
<text x="693.89" y="592.6">Mi,26.02.</text>
<text x="781.81" y="574.7">00h</text>
<text x="781.81" y="592.6">Do,27.02.</text>
<text x="869.74" y="574.7">06h</text>
<text x="869.74" y="592.6">Do,27.02.</text>
<text x="957.67" y="574.7">12h</text>
<text x="957.67" y="592.6">Do,27.02.</text>
<text x="1045.59" y="574.7">18h</text>
<text x="1045.59" y="592.6">Do,27.02.</text>
<text x="1133.52" y="574.7">00h</text>
<text x="1133.52" y="592.6">Fr,28.02.</text>
<text x="1221.45" y="574.7">06h</text>
<text x="1221.45" y="592.6">Fr,28.02.</text>
<text x="1309.37" y="574.7">12h</text>
<text x="1309.37" y="592.6">Fr,28.02.</text>
<text x="1397.3" y="574.7">18h</text>
<text x="1397.3" y="592.6">Fr,28.02.</text>
</g>
<text transform="translate(24.4 320.4) rotate(-90)" font-size="18px" text-anchor="middle">Neuschnee in cm/Niederschlag in mm</text>
<text transform="translate(1477.2 320.4) rotate(-90)" font-size="18px" text-anchor="middle">mittlerer Wind in km/h</text>
<g fill="none" stroke="#244a58" stroke-width="1.4" stroke-linecap="round" stroke-linejoin="round">
<circle cx="13.92" cy="12.35" r="2.05"/>
<path d="M13.61 7.24C14.33 7.44 16.99 7.76 17.98 8.48C18.96 9.21 19.43 10.46 19.54 11.61C19.64 12.75 19.17 14.21 18.6 15.35C18.03 16.5 17.04 17.8 16.1 18.47C15.17 19.15 13.87 19.56 12.98 19.41C12.1 19.25 11.26 18.21 10.8 17.54C10.33 16.86 10.28 15.71 10.17 15.35"/>
<path d="M17.66 3.49C18.24 3.8 20.26 4.53 21.1 5.36C21.93 6.2 22.5 7.24 22.66 8.48C22.81 9.73 22.45 11.4 22.03 12.85C21.62 14.31 20.94 15.87 20.16 17.22C19.38 18.58 18.34 19.93 17.35 20.97C16.36 22.01 15.17 22.79 14.23 23.47C13.29 24.14 12.15 24.77 11.73 25.03"/>
<path d="M22.03 1.31C22.6 1.67 24.63 2.5 25.47 3.49C26.3 4.48 26.92 5.88 27.03 7.24C27.13 8.59 26.56 10.15 26.09 11.61C25.62 13.06 24.89 14.52 24.22 15.98C23.54 17.43 22.6 18.99 22.03 20.34C21.46 21.7 21.04 22.84 20.78 24.09C20.52 25.34 20.37 26.59 20.47 27.84C20.58 29.08 20.99 30.54 21.41 31.58C21.82 32.62 22.5 33.51 22.97 34.08C23.44 34.65 24.01 34.86 24.22 35.01"/>
<path d="M33.89 1.31C34.15 1.77 35.14 3.02 35.45 4.11C35.77 5.21 35.87 6.72 35.77 7.86C35.66 9 35.3 9.94 34.83 10.98C34.36 12.02 33.37 13.06 32.96 14.1C32.54 15.14 32.23 16.34 32.33 17.22C32.44 18.11 32.85 18.99 33.58 19.41C34.31 19.82 35.56 19.67 36.7 19.72C37.85 19.77 39.3 19.56 40.45 19.72C41.59 19.88 42.68 20.34 43.57 20.66C44.45 20.97 45.39 21.44 45.75 21.59"/>
<path d="M41.7 6.3C41.33 6.66 40.03 7.7 39.51 8.48C38.99 9.26 38.63 10.15 38.57 10.98C38.52 11.81 38.78 12.7 39.2 13.48C39.61 14.26 40.34 15.04 41.07 15.66C41.8 16.29 42.74 16.78 43.57 17.22C44.4 17.67 45.65 18.16 46.06 18.35"/>
<path d="M43.57 9.42C43.41 9.78 42.68 10.93 42.63 11.61C42.58 12.28 42.74 12.91 43.26 13.48C43.78 14.05 45.34 14.78 45.75 15.04"/>
<path d="M43.26 26.59C42.89 26.38 41.96 25.63 41.07 25.34C40.19 25.05 39.09 24.79 37.95 24.84C36.81 24.89 35.3 25.15 34.2 25.65C33.11 26.15 32.12 26.95 31.4 27.84C30.67 28.72 30.1 30.02 29.84 30.96C29.58 31.89 29.73 32.72 29.84 33.45C29.94 34.18 30.36 35.01 30.46 35.33"/>
<path d="M41.7 29.4C41.33 29.24 40.24 28.46 39.51 28.46C38.78 28.46 37.9 28.88 37.33 29.4C36.75 29.92 36.23 30.9 36.08 31.58C35.92 32.26 36.34 33.14 36.39 33.45"/>
</g>
<path d="M27.03 0.37C27.49 0.68 29.11 1.41 29.84 2.24C30.56 3.07 31.19 4.22 31.4 5.36C31.6 6.51 31.45 7.86 31.08 9.11C30.72 10.36 29.89 11.61 29.21 12.85C28.53 14.1 27.65 15.35 27.03 16.6C26.4 17.85 25.73 19.3 25.47 20.34C25.21 21.38 25.21 22.11 25.47 22.84C25.73 23.57 26.3 24.35 27.03 24.71C27.75 25.08 28.85 25.18 29.84 25.03C30.82 24.87 31.92 24.19 32.96 23.78C34 23.36 35.04 22.79 36.08 22.53C37.12 22.27 38.16 22.11 39.2 22.22C40.24 22.32 41.44 22.79 42.32 23.15C43.2 23.52 44.14 24.19 44.5 24.4" fill="none" stroke="#c3d54b" stroke-width="1.45" stroke-linecap="round"/>
<text x="28.4" y="50.4" font-size="10.6px" font-weight="bold" fill="#15384a" text-anchor="middle" textLength="57.2" lengthAdjust="spacingAndGlyphs">GeoSphere</text>
<text x="28.6" y="62.9" font-size="10.6px" fill="#3d6072" text-anchor="middle" textLength="36.8" lengthAdjust="spacingAndGlyphs">Austria</text>
</svg>
</body></html>
